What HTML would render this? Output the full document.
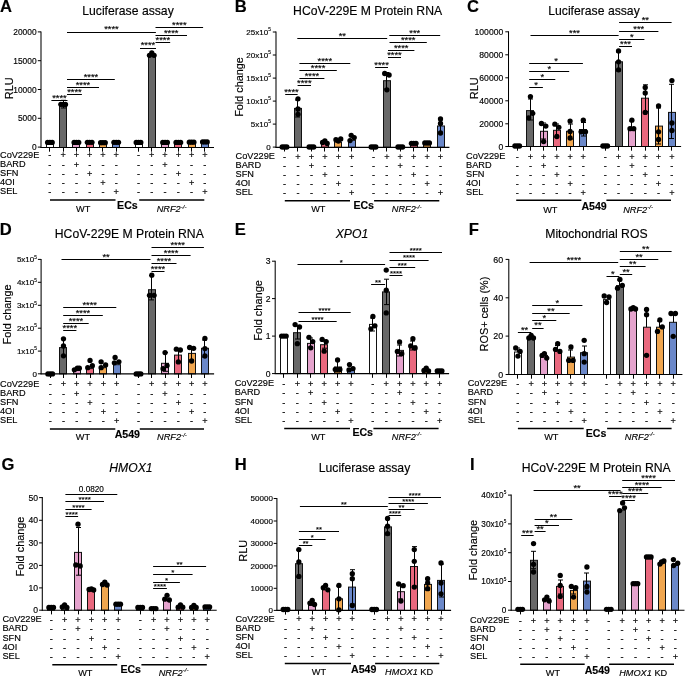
<!DOCTYPE html>
<html><head><meta charset="utf-8"><title>Figure</title>
<style>html,body{margin:0;padding:0;background:#fff;}svg{display:block;will-change:transform;}text{fill:#000;stroke:#000;stroke-width:0.15px;}</style>
</head><body>
<svg width="685" height="677" viewBox="0 0 685 677" font-family='"Liberation Sans", sans-serif'>
<rect width="685" height="677" fill="#fff"/>
<line x1="41" y1="31.4" x2="41" y2="148" stroke="#000" stroke-width="1.05"/>
<line x1="37.8" y1="147.1" x2="41" y2="147.1" stroke="#000" stroke-width="1"/>
<text x="36.55" y="150.12" font-size="8.4" text-anchor="end">0</text>
<line x1="37.8" y1="118.3" x2="41" y2="118.3" stroke="#000" stroke-width="1"/>
<text x="36.55" y="121.32" font-size="8.4" text-anchor="end">5000</text>
<line x1="37.8" y1="89.5" x2="41" y2="89.5" stroke="#000" stroke-width="1"/>
<text x="36.55" y="92.52" font-size="8.4" text-anchor="end">10000</text>
<line x1="37.8" y1="60.7" x2="41" y2="60.7" stroke="#000" stroke-width="1"/>
<text x="36.55" y="63.72" font-size="8.4" text-anchor="end">15000</text>
<line x1="37.8" y1="31.9" x2="41" y2="31.9" stroke="#000" stroke-width="1"/>
<text x="36.55" y="34.92" font-size="8.4" text-anchor="end">20000</text>
<rect x="46.5" y="143.6" width="7" height="3.9" fill="#ffffff" stroke="#111" stroke-width="1"/>
<circle cx="49.9" cy="142.4" r="2.65"/>
<circle cx="47.6" cy="142.4" r="2.65"/>
<circle cx="52.2" cy="142.4" r="2.65"/>
<rect x="59.5" y="105.5" width="7" height="42" fill="#686868" stroke="#111" stroke-width="1"/>
<line x1="63.5" y1="100.3" x2="63.5" y2="108" stroke="#000" stroke-width="1"/>
<line x1="61" y1="100.3" x2="66" y2="100.3" stroke="#000" stroke-width="1"/>
<line x1="61" y1="108" x2="66" y2="108" stroke="#000" stroke-width="1"/>
<circle cx="63.16" cy="104.3" r="2.65"/>
<circle cx="60.86" cy="104.3" r="2.65"/>
<circle cx="65.46" cy="104.5" r="2.65"/>
<rect x="72.5" y="143.6" width="7" height="3.9" fill="#e5a3cd" stroke="#111" stroke-width="1"/>
<circle cx="76.42" cy="142.4" r="2.65"/>
<circle cx="74.12" cy="142.4" r="2.65"/>
<circle cx="78.72" cy="142.4" r="2.65"/>
<rect x="86.5" y="143.5" width="7" height="4" fill="#e9687e" stroke="#111" stroke-width="1"/>
<circle cx="89.68" cy="142.3" r="2.65"/>
<circle cx="87.38" cy="142.3" r="2.65"/>
<circle cx="91.98" cy="142.3" r="2.65"/>
<rect x="99.5" y="143.9" width="7" height="3.6" fill="#f0a64f" stroke="#111" stroke-width="1"/>
<circle cx="102.94" cy="142.7" r="2.65"/>
<circle cx="100.64" cy="142.7" r="2.65"/>
<circle cx="105.24" cy="142.7" r="2.65"/>
<rect x="112.5" y="143.5" width="7" height="4" fill="#6b88c9" stroke="#111" stroke-width="1"/>
<circle cx="116.2" cy="142.3" r="2.65"/>
<circle cx="113.9" cy="142.3" r="2.65"/>
<circle cx="118.5" cy="142.3" r="2.65"/>
<rect x="135.5" y="143.6" width="7" height="3.9" fill="#ffffff" stroke="#111" stroke-width="1"/>
<circle cx="138.5" cy="142.4" r="2.65"/>
<circle cx="136.2" cy="142.4" r="2.65"/>
<circle cx="140.8" cy="142.4" r="2.65"/>
<rect x="148.5" y="55" width="7" height="92.5" fill="#686868" stroke="#111" stroke-width="1"/>
<circle cx="151.78" cy="53" r="2.65"/>
<circle cx="149.48" cy="55.3" r="2.65"/>
<circle cx="154.08" cy="55.3" r="2.65"/>
<rect x="161.5" y="143.6" width="7" height="3.9" fill="#e5a3cd" stroke="#111" stroke-width="1"/>
<circle cx="165.06" cy="142.4" r="2.65"/>
<circle cx="162.76" cy="142.4" r="2.65"/>
<circle cx="167.36" cy="142.4" r="2.65"/>
<rect x="174.5" y="143.6" width="7" height="3.9" fill="#e9687e" stroke="#111" stroke-width="1"/>
<circle cx="178.34" cy="142.4" r="2.65"/>
<circle cx="176.04" cy="142.4" r="2.65"/>
<circle cx="180.64" cy="142.4" r="2.65"/>
<rect x="188.5" y="143.4" width="7" height="4.1" fill="#f0a64f" stroke="#111" stroke-width="1"/>
<circle cx="191.62" cy="142.2" r="2.65"/>
<circle cx="189.32" cy="142.2" r="2.65"/>
<circle cx="193.92" cy="142.2" r="2.65"/>
<rect x="201.5" y="143.1" width="7" height="4.4" fill="#6b88c9" stroke="#111" stroke-width="1"/>
<circle cx="204.9" cy="141.9" r="2.65"/>
<circle cx="202.6" cy="141.9" r="2.65"/>
<circle cx="207.2" cy="141.9" r="2.65"/>
<line x1="40.5" y1="147.5" x2="214" y2="147.5" stroke="#000" stroke-width="1.15"/>
<line x1="49.5" y1="147.5" x2="49.5" y2="151.7" stroke="#000" stroke-width="1"/>
<line x1="63.5" y1="147.5" x2="63.5" y2="151.7" stroke="#000" stroke-width="1"/>
<line x1="76.5" y1="147.5" x2="76.5" y2="151.7" stroke="#000" stroke-width="1"/>
<line x1="89.5" y1="147.5" x2="89.5" y2="151.7" stroke="#000" stroke-width="1"/>
<line x1="102.5" y1="147.5" x2="102.5" y2="151.7" stroke="#000" stroke-width="1"/>
<line x1="116.5" y1="147.5" x2="116.5" y2="151.7" stroke="#000" stroke-width="1"/>
<line x1="138.5" y1="147.5" x2="138.5" y2="151.7" stroke="#000" stroke-width="1"/>
<line x1="151.5" y1="147.5" x2="151.5" y2="151.7" stroke="#000" stroke-width="1"/>
<line x1="165.5" y1="147.5" x2="165.5" y2="151.7" stroke="#000" stroke-width="1"/>
<line x1="178.5" y1="147.5" x2="178.5" y2="151.7" stroke="#000" stroke-width="1"/>
<line x1="191.5" y1="147.5" x2="191.5" y2="151.7" stroke="#000" stroke-width="1"/>
<line x1="204.5" y1="147.5" x2="204.5" y2="151.7" stroke="#000" stroke-width="1"/>
<line x1="67" y1="32.5" x2="155.9" y2="32.5" stroke="#000" stroke-width="1"/>
<text x="111.45" y="32.4" font-size="9.3" text-anchor="middle" stroke="#000" stroke-width="0.12">****</text>
<line x1="67" y1="79.5" x2="114.8" y2="79.5" stroke="#000" stroke-width="1"/>
<text x="90.9" y="79.7" font-size="9.3" text-anchor="middle" stroke="#000" stroke-width="0.12">****</text>
<line x1="67" y1="87.5" x2="99" y2="87.5" stroke="#000" stroke-width="1"/>
<text x="83" y="87.9" font-size="9.3" text-anchor="middle" stroke="#000" stroke-width="0.12">****</text>
<line x1="67" y1="94.5" x2="81.9" y2="94.5" stroke="#000" stroke-width="1"/>
<text x="74.45" y="95.2" font-size="9.3" text-anchor="middle" stroke="#000" stroke-width="0.12">****</text>
<line x1="51.4" y1="100.5" x2="67.5" y2="100.5" stroke="#000" stroke-width="1"/>
<text x="59.45" y="100.5" font-size="9.3" text-anchor="middle" stroke="#000" stroke-width="0.12">****</text>
<line x1="140" y1="48.5" x2="156" y2="48.5" stroke="#000" stroke-width="1"/>
<text x="148" y="48.4" font-size="9.3" text-anchor="middle" stroke="#000" stroke-width="0.12">****</text>
<line x1="155.5" y1="42.5" x2="170.2" y2="42.5" stroke="#000" stroke-width="1"/>
<text x="162.85" y="42.9" font-size="9.3" text-anchor="middle" stroke="#000" stroke-width="0.12">****</text>
<line x1="155.5" y1="35.5" x2="187" y2="35.5" stroke="#000" stroke-width="1"/>
<text x="171.25" y="35.6" font-size="9.3" text-anchor="middle" stroke="#000" stroke-width="0.12">****</text>
<line x1="155.5" y1="27.5" x2="203.1" y2="27.5" stroke="#000" stroke-width="1"/>
<text x="179.3" y="27.6" font-size="9.3" text-anchor="middle" stroke="#000" stroke-width="0.12">****</text>
<text x="128" y="15" font-size="12.2" text-anchor="middle">Luciferase assay</text>
<text x="0" y="11.8" font-size="16.6" font-weight="bold">A</text>
<text x="12.7" y="88.3" font-size="10.9" text-anchor="middle" transform="rotate(-90 12.7 88.3)">RLU</text>
<text x="0" y="158" font-size="9.2">CoV229E</text>
<text x="49.9" y="158" font-size="9.2" text-anchor="middle">-</text>
<text x="63.16" y="158" font-size="9.2" text-anchor="middle">+</text>
<text x="76.42" y="158" font-size="9.2" text-anchor="middle">+</text>
<text x="89.68" y="158" font-size="9.2" text-anchor="middle">+</text>
<text x="102.94" y="158" font-size="9.2" text-anchor="middle">+</text>
<text x="116.2" y="158" font-size="9.2" text-anchor="middle">+</text>
<text x="138.5" y="158" font-size="9.2" text-anchor="middle">-</text>
<text x="151.78" y="158" font-size="9.2" text-anchor="middle">+</text>
<text x="165.06" y="158" font-size="9.2" text-anchor="middle">+</text>
<text x="178.34" y="158" font-size="9.2" text-anchor="middle">+</text>
<text x="191.62" y="158" font-size="9.2" text-anchor="middle">+</text>
<text x="204.9" y="158" font-size="9.2" text-anchor="middle">+</text>
<text x="0" y="167" font-size="9.2">BARD</text>
<text x="49.9" y="168" font-size="9.2" text-anchor="middle">-</text>
<text x="63.16" y="168" font-size="9.2" text-anchor="middle">-</text>
<text x="76.42" y="168" font-size="9.2" text-anchor="middle">+</text>
<text x="89.68" y="168" font-size="9.2" text-anchor="middle">-</text>
<text x="102.94" y="168" font-size="9.2" text-anchor="middle">-</text>
<text x="116.2" y="168" font-size="9.2" text-anchor="middle">-</text>
<text x="138.5" y="168" font-size="9.2" text-anchor="middle">-</text>
<text x="151.78" y="168" font-size="9.2" text-anchor="middle">-</text>
<text x="165.06" y="168" font-size="9.2" text-anchor="middle">+</text>
<text x="178.34" y="168" font-size="9.2" text-anchor="middle">-</text>
<text x="191.62" y="168" font-size="9.2" text-anchor="middle">-</text>
<text x="204.9" y="168" font-size="9.2" text-anchor="middle">-</text>
<text x="0" y="176" font-size="9.2">SFN</text>
<text x="49.9" y="177" font-size="9.2" text-anchor="middle">-</text>
<text x="63.16" y="177" font-size="9.2" text-anchor="middle">-</text>
<text x="76.42" y="177" font-size="9.2" text-anchor="middle">-</text>
<text x="89.68" y="177" font-size="9.2" text-anchor="middle">+</text>
<text x="102.94" y="177" font-size="9.2" text-anchor="middle">-</text>
<text x="116.2" y="177" font-size="9.2" text-anchor="middle">-</text>
<text x="138.5" y="177" font-size="9.2" text-anchor="middle">-</text>
<text x="151.78" y="177" font-size="9.2" text-anchor="middle">-</text>
<text x="165.06" y="177" font-size="9.2" text-anchor="middle">-</text>
<text x="178.34" y="177" font-size="9.2" text-anchor="middle">+</text>
<text x="191.62" y="177" font-size="9.2" text-anchor="middle">-</text>
<text x="204.9" y="177" font-size="9.2" text-anchor="middle">-</text>
<text x="0" y="185" font-size="9.2">4OI</text>
<text x="49.9" y="186" font-size="9.2" text-anchor="middle">-</text>
<text x="63.16" y="186" font-size="9.2" text-anchor="middle">-</text>
<text x="76.42" y="186" font-size="9.2" text-anchor="middle">-</text>
<text x="89.68" y="186" font-size="9.2" text-anchor="middle">-</text>
<text x="102.94" y="186" font-size="9.2" text-anchor="middle">+</text>
<text x="116.2" y="186" font-size="9.2" text-anchor="middle">-</text>
<text x="138.5" y="186" font-size="9.2" text-anchor="middle">-</text>
<text x="151.78" y="186" font-size="9.2" text-anchor="middle">-</text>
<text x="165.06" y="186" font-size="9.2" text-anchor="middle">-</text>
<text x="178.34" y="186" font-size="9.2" text-anchor="middle">-</text>
<text x="191.62" y="186" font-size="9.2" text-anchor="middle">+</text>
<text x="204.9" y="186" font-size="9.2" text-anchor="middle">-</text>
<text x="0" y="194" font-size="9.2">SEL</text>
<text x="49.9" y="195" font-size="9.2" text-anchor="middle">-</text>
<text x="63.16" y="195" font-size="9.2" text-anchor="middle">-</text>
<text x="76.42" y="195" font-size="9.2" text-anchor="middle">-</text>
<text x="89.68" y="195" font-size="9.2" text-anchor="middle">-</text>
<text x="102.94" y="195" font-size="9.2" text-anchor="middle">-</text>
<text x="116.2" y="195" font-size="9.2" text-anchor="middle">+</text>
<text x="138.5" y="195" font-size="9.2" text-anchor="middle">-</text>
<text x="151.78" y="195" font-size="9.2" text-anchor="middle">-</text>
<text x="165.06" y="195" font-size="9.2" text-anchor="middle">-</text>
<text x="178.34" y="195" font-size="9.2" text-anchor="middle">-</text>
<text x="191.62" y="195" font-size="9.2" text-anchor="middle">-</text>
<text x="204.9" y="195" font-size="9.2" text-anchor="middle">+</text>
<line x1="50" y1="200.1" x2="115.5" y2="200.1" stroke="#000" stroke-width="1.5"/>
<line x1="139.2" y1="200.1" x2="204.3" y2="200.1" stroke="#000" stroke-width="1.5"/>
<text x="83.2" y="211.8" font-size="9.2" text-anchor="middle">WT</text>
<text x="117.1" y="208.5" font-size="10.6" font-weight="bold">ECs</text>
<text x="156.7" y="212" font-size="9.2"><tspan font-style="italic">NRF2</tspan><tspan font-size="6.2" dy="-3.4" font-style="italic">-/-</tspan></text>
<line x1="276" y1="31.5" x2="276" y2="147.8" stroke="#000" stroke-width="1.05"/>
<line x1="272.8" y1="147.1" x2="276" y2="147.1" stroke="#000" stroke-width="1"/>
<text x="270.75" y="149.98" font-size="8" text-anchor="end">0</text>
<line x1="272.8" y1="124.1" x2="276" y2="124.1" stroke="#000" stroke-width="1"/>
<text x="270.75" y="126.98" font-size="8" text-anchor="end">5x10<tspan font-size="4.7" dy="-3.6">5</tspan></text>
<line x1="272.8" y1="101.1" x2="276" y2="101.1" stroke="#000" stroke-width="1"/>
<text x="270.75" y="103.98" font-size="8" text-anchor="end">10x10<tspan font-size="4.7" dy="-3.6">5</tspan></text>
<line x1="272.8" y1="78.1" x2="276" y2="78.1" stroke="#000" stroke-width="1"/>
<text x="270.75" y="80.98" font-size="8" text-anchor="end">15x10<tspan font-size="4.7" dy="-3.6">5</tspan></text>
<line x1="272.8" y1="55" x2="276" y2="55" stroke="#000" stroke-width="1"/>
<text x="270.75" y="57.88" font-size="8" text-anchor="end">20x10<tspan font-size="4.7" dy="-3.6">5</tspan></text>
<line x1="272.8" y1="32" x2="276" y2="32" stroke="#000" stroke-width="1"/>
<text x="270.75" y="34.88" font-size="8" text-anchor="end">25x10<tspan font-size="4.7" dy="-3.6">5</tspan></text>
<circle cx="284.5" cy="147" r="2.65"/>
<circle cx="282.2" cy="147" r="2.65"/>
<circle cx="286.8" cy="147" r="2.65"/>
<rect x="294.5" y="108.4" width="7" height="38.9" fill="#686868" stroke="#111" stroke-width="1"/>
<line x1="297.5" y1="100" x2="297.5" y2="117" stroke="#000" stroke-width="1"/>
<line x1="295" y1="100" x2="300" y2="100" stroke="#000" stroke-width="1"/>
<line x1="295" y1="117" x2="300" y2="117" stroke="#000" stroke-width="1"/>
<circle cx="297.96" cy="98.8" r="2.65"/>
<circle cx="297.96" cy="109" r="2.65"/>
<circle cx="297.96" cy="114.3" r="2.65"/>
<circle cx="311.42" cy="147" r="2.65"/>
<circle cx="309.12" cy="147" r="2.65"/>
<circle cx="313.72" cy="147" r="2.65"/>
<rect x="321.5" y="143.5" width="7" height="3.8" fill="#e9687e" stroke="#111" stroke-width="1"/>
<circle cx="324.88" cy="141" r="2.65"/>
<circle cx="322.58" cy="142.5" r="2.65"/>
<circle cx="327.18" cy="143.5" r="2.65"/>
<rect x="334.5" y="142" width="7" height="5.3" fill="#f0a64f" stroke="#111" stroke-width="1"/>
<circle cx="338.34" cy="141" r="2.65"/>
<circle cx="335.94" cy="139.7" r="2.65"/>
<circle cx="340.74" cy="138.9" r="2.65"/>
<rect x="348.5" y="140.3" width="7" height="7" fill="#6b88c9" stroke="#111" stroke-width="1"/>
<circle cx="351.2" cy="135.3" r="2.65"/>
<circle cx="354.2" cy="137.6" r="2.65"/>
<circle cx="350" cy="140.6" r="2.65"/>
<circle cx="373.5" cy="147" r="2.65"/>
<circle cx="371.2" cy="147" r="2.65"/>
<circle cx="375.8" cy="147" r="2.65"/>
<rect x="383.5" y="80.7" width="7" height="66.6" fill="#686868" stroke="#111" stroke-width="1"/>
<line x1="386.5" y1="72.5" x2="386.5" y2="89" stroke="#000" stroke-width="1"/>
<line x1="384" y1="72.5" x2="389" y2="72.5" stroke="#000" stroke-width="1"/>
<line x1="384" y1="89" x2="389" y2="89" stroke="#000" stroke-width="1"/>
<circle cx="384.7" cy="73.5" r="2.65"/>
<circle cx="389.1" cy="75" r="2.65"/>
<circle cx="386.9" cy="89.8" r="2.65"/>
<circle cx="400.3" cy="147" r="2.65"/>
<circle cx="398" cy="147" r="2.65"/>
<circle cx="402.6" cy="147" r="2.65"/>
<rect x="410.5" y="144" width="7" height="3.3" fill="#e9687e" stroke="#111" stroke-width="1"/>
<circle cx="413.7" cy="143.3" r="2.65"/>
<circle cx="411.4" cy="143.3" r="2.65"/>
<circle cx="416" cy="143.3" r="2.65"/>
<rect x="423.5" y="144" width="7" height="3.3" fill="#f0a64f" stroke="#111" stroke-width="1"/>
<circle cx="427.1" cy="143" r="2.65"/>
<circle cx="424.8" cy="143" r="2.65"/>
<circle cx="429.4" cy="143" r="2.65"/>
<rect x="437.5" y="126" width="7" height="21.3" fill="#6b88c9" stroke="#111" stroke-width="1"/>
<line x1="440.5" y1="119.5" x2="440.5" y2="132.5" stroke="#000" stroke-width="1"/>
<line x1="438" y1="119.5" x2="443" y2="119.5" stroke="#000" stroke-width="1"/>
<line x1="438" y1="132.5" x2="443" y2="132.5" stroke="#000" stroke-width="1"/>
<circle cx="440.5" cy="119" r="2.65"/>
<circle cx="440.5" cy="123.4" r="2.65"/>
<circle cx="440.5" cy="133" r="2.65"/>
<line x1="275.5" y1="147.3" x2="449.4" y2="147.3" stroke="#000" stroke-width="1.15"/>
<line x1="284.5" y1="147.3" x2="284.5" y2="151.5" stroke="#000" stroke-width="1"/>
<line x1="297.5" y1="147.3" x2="297.5" y2="151.5" stroke="#000" stroke-width="1"/>
<line x1="311.5" y1="147.3" x2="311.5" y2="151.5" stroke="#000" stroke-width="1"/>
<line x1="324.5" y1="147.3" x2="324.5" y2="151.5" stroke="#000" stroke-width="1"/>
<line x1="338.5" y1="147.3" x2="338.5" y2="151.5" stroke="#000" stroke-width="1"/>
<line x1="351.5" y1="147.3" x2="351.5" y2="151.5" stroke="#000" stroke-width="1"/>
<line x1="373.5" y1="147.3" x2="373.5" y2="151.5" stroke="#000" stroke-width="1"/>
<line x1="386.5" y1="147.3" x2="386.5" y2="151.5" stroke="#000" stroke-width="1"/>
<line x1="400.5" y1="147.3" x2="400.5" y2="151.5" stroke="#000" stroke-width="1"/>
<line x1="413.5" y1="147.3" x2="413.5" y2="151.5" stroke="#000" stroke-width="1"/>
<line x1="427.5" y1="147.3" x2="427.5" y2="151.5" stroke="#000" stroke-width="1"/>
<line x1="440.5" y1="147.3" x2="440.5" y2="151.5" stroke="#000" stroke-width="1"/>
<line x1="297.3" y1="38.5" x2="387.2" y2="38.5" stroke="#000" stroke-width="1"/>
<text x="342.25" y="39" font-size="9.3" text-anchor="middle" stroke="#000" stroke-width="0.12">**</text>
<line x1="299.4" y1="63.5" x2="350.3" y2="63.5" stroke="#000" stroke-width="1"/>
<text x="324.85" y="63.6" font-size="9.3" text-anchor="middle" stroke="#000" stroke-width="0.12">****</text>
<line x1="299.4" y1="70.5" x2="336.8" y2="70.5" stroke="#000" stroke-width="1"/>
<text x="318.1" y="71" font-size="9.3" text-anchor="middle" stroke="#000" stroke-width="0.12">****</text>
<line x1="299.4" y1="78.5" x2="324.4" y2="78.5" stroke="#000" stroke-width="1"/>
<text x="311.9" y="78.8" font-size="9.3" text-anchor="middle" stroke="#000" stroke-width="0.12">****</text>
<line x1="297.6" y1="85.5" x2="311" y2="85.5" stroke="#000" stroke-width="1"/>
<text x="304.3" y="86.3" font-size="9.3" text-anchor="middle" stroke="#000" stroke-width="0.12">****</text>
<line x1="285.2" y1="94.5" x2="297.6" y2="94.5" stroke="#000" stroke-width="1"/>
<text x="291.4" y="95.4" font-size="9.3" text-anchor="middle" stroke="#000" stroke-width="0.12">****</text>
<line x1="375.1" y1="67.5" x2="388" y2="67.5" stroke="#000" stroke-width="1"/>
<text x="381.55" y="67.7" font-size="9.3" text-anchor="middle" stroke="#000" stroke-width="0.12">****</text>
<line x1="388" y1="57.5" x2="401" y2="57.5" stroke="#000" stroke-width="1"/>
<text x="394.5" y="58" font-size="9.3" text-anchor="middle" stroke="#000" stroke-width="0.12">****</text>
<line x1="388" y1="50.5" x2="414.4" y2="50.5" stroke="#000" stroke-width="1"/>
<text x="401.2" y="50.6" font-size="9.3" text-anchor="middle" stroke="#000" stroke-width="0.12">****</text>
<line x1="389.5" y1="42.5" x2="426.8" y2="42.5" stroke="#000" stroke-width="1"/>
<text x="408.15" y="43.4" font-size="9.3" text-anchor="middle" stroke="#000" stroke-width="0.12">****</text>
<line x1="389.3" y1="35.5" x2="440.2" y2="35.5" stroke="#000" stroke-width="1"/>
<text x="414.75" y="36.2" font-size="9.3" text-anchor="middle" stroke="#000" stroke-width="0.12">***</text>
<text x="367.6" y="15" font-size="12.2" text-anchor="middle">HCoV-229E M Protein RNA</text>
<text x="234.7" y="11.8" font-size="16.6" font-weight="bold">B</text>
<text x="242.8" y="87" font-size="10.85" text-anchor="middle" transform="rotate(-90 242.8 87)">Fold change</text>
<text x="235.6" y="159" font-size="9.2">CoV229E</text>
<text x="284.5" y="160" font-size="9.2" text-anchor="middle">-</text>
<text x="297.96" y="160" font-size="9.2" text-anchor="middle">+</text>
<text x="311.42" y="160" font-size="9.2" text-anchor="middle">+</text>
<text x="324.88" y="160" font-size="9.2" text-anchor="middle">+</text>
<text x="338.34" y="160" font-size="9.2" text-anchor="middle">+</text>
<text x="351.8" y="160" font-size="9.2" text-anchor="middle">+</text>
<text x="373.5" y="160" font-size="9.2" text-anchor="middle">-</text>
<text x="386.9" y="160" font-size="9.2" text-anchor="middle">+</text>
<text x="400.3" y="160" font-size="9.2" text-anchor="middle">+</text>
<text x="413.7" y="160" font-size="9.2" text-anchor="middle">+</text>
<text x="427.1" y="160" font-size="9.2" text-anchor="middle">+</text>
<text x="440.5" y="160" font-size="9.2" text-anchor="middle">+</text>
<text x="235.6" y="168" font-size="9.2">BARD</text>
<text x="284.5" y="169" font-size="9.2" text-anchor="middle">-</text>
<text x="297.96" y="169" font-size="9.2" text-anchor="middle">-</text>
<text x="311.42" y="169" font-size="9.2" text-anchor="middle">+</text>
<text x="324.88" y="169" font-size="9.2" text-anchor="middle">-</text>
<text x="338.34" y="169" font-size="9.2" text-anchor="middle">-</text>
<text x="351.8" y="169" font-size="9.2" text-anchor="middle">-</text>
<text x="373.5" y="169" font-size="9.2" text-anchor="middle">-</text>
<text x="386.9" y="169" font-size="9.2" text-anchor="middle">-</text>
<text x="400.3" y="169" font-size="9.2" text-anchor="middle">+</text>
<text x="413.7" y="169" font-size="9.2" text-anchor="middle">-</text>
<text x="427.1" y="169" font-size="9.2" text-anchor="middle">-</text>
<text x="440.5" y="169" font-size="9.2" text-anchor="middle">-</text>
<text x="235.6" y="177" font-size="9.2">SFN</text>
<text x="284.5" y="178" font-size="9.2" text-anchor="middle">-</text>
<text x="297.96" y="178" font-size="9.2" text-anchor="middle">-</text>
<text x="311.42" y="178" font-size="9.2" text-anchor="middle">-</text>
<text x="324.88" y="178" font-size="9.2" text-anchor="middle">+</text>
<text x="338.34" y="178" font-size="9.2" text-anchor="middle">-</text>
<text x="351.8" y="178" font-size="9.2" text-anchor="middle">-</text>
<text x="373.5" y="178" font-size="9.2" text-anchor="middle">-</text>
<text x="386.9" y="178" font-size="9.2" text-anchor="middle">-</text>
<text x="400.3" y="178" font-size="9.2" text-anchor="middle">-</text>
<text x="413.7" y="178" font-size="9.2" text-anchor="middle">+</text>
<text x="427.1" y="178" font-size="9.2" text-anchor="middle">-</text>
<text x="440.5" y="178" font-size="9.2" text-anchor="middle">-</text>
<text x="235.6" y="186" font-size="9.2">4OI</text>
<text x="284.5" y="187" font-size="9.2" text-anchor="middle">-</text>
<text x="297.96" y="187" font-size="9.2" text-anchor="middle">-</text>
<text x="311.42" y="187" font-size="9.2" text-anchor="middle">-</text>
<text x="324.88" y="187" font-size="9.2" text-anchor="middle">-</text>
<text x="338.34" y="187" font-size="9.2" text-anchor="middle">+</text>
<text x="351.8" y="187" font-size="9.2" text-anchor="middle">-</text>
<text x="373.5" y="187" font-size="9.2" text-anchor="middle">-</text>
<text x="386.9" y="187" font-size="9.2" text-anchor="middle">-</text>
<text x="400.3" y="187" font-size="9.2" text-anchor="middle">-</text>
<text x="413.7" y="187" font-size="9.2" text-anchor="middle">-</text>
<text x="427.1" y="187" font-size="9.2" text-anchor="middle">+</text>
<text x="440.5" y="187" font-size="9.2" text-anchor="middle">-</text>
<text x="235.6" y="195" font-size="9.2">SEL</text>
<text x="284.5" y="196" font-size="9.2" text-anchor="middle">-</text>
<text x="297.96" y="196" font-size="9.2" text-anchor="middle">-</text>
<text x="311.42" y="196" font-size="9.2" text-anchor="middle">-</text>
<text x="324.88" y="196" font-size="9.2" text-anchor="middle">-</text>
<text x="338.34" y="196" font-size="9.2" text-anchor="middle">-</text>
<text x="351.8" y="196" font-size="9.2" text-anchor="middle">+</text>
<text x="373.5" y="196" font-size="9.2" text-anchor="middle">-</text>
<text x="386.9" y="196" font-size="9.2" text-anchor="middle">-</text>
<text x="400.3" y="196" font-size="9.2" text-anchor="middle">-</text>
<text x="413.7" y="196" font-size="9.2" text-anchor="middle">-</text>
<text x="427.1" y="196" font-size="9.2" text-anchor="middle">-</text>
<text x="440.5" y="196" font-size="9.2" text-anchor="middle">+</text>
<line x1="284.8" y1="200.8" x2="350" y2="200.8" stroke="#000" stroke-width="1.5"/>
<line x1="374.1" y1="200.8" x2="439.3" y2="200.8" stroke="#000" stroke-width="1.5"/>
<text x="318.3" y="212" font-size="9.2" text-anchor="middle">WT</text>
<text x="353.4" y="208.7" font-size="10.6" font-weight="bold">ECs</text>
<text x="391.8" y="212" font-size="9.2"><tspan font-style="italic">NRF2</tspan><tspan font-size="6.2" dy="-3.4" font-style="italic">-/-</tspan></text>
<line x1="508.5" y1="31.3" x2="508.5" y2="147" stroke="#000" stroke-width="1.05"/>
<line x1="505.3" y1="146.5" x2="508.5" y2="146.5" stroke="#000" stroke-width="1"/>
<text x="503.25" y="149.6" font-size="8.6" text-anchor="end">0</text>
<line x1="505.3" y1="123.8" x2="508.5" y2="123.8" stroke="#000" stroke-width="1"/>
<text x="503.25" y="126.9" font-size="8.6" text-anchor="end">20000</text>
<line x1="505.3" y1="100.8" x2="508.5" y2="100.8" stroke="#000" stroke-width="1"/>
<text x="503.25" y="103.9" font-size="8.6" text-anchor="end">40000</text>
<line x1="505.3" y1="77.8" x2="508.5" y2="77.8" stroke="#000" stroke-width="1"/>
<text x="503.25" y="80.9" font-size="8.6" text-anchor="end">60000</text>
<line x1="505.3" y1="54.8" x2="508.5" y2="54.8" stroke="#000" stroke-width="1"/>
<text x="503.25" y="57.9" font-size="8.6" text-anchor="end">80000</text>
<line x1="505.3" y1="31.8" x2="508.5" y2="31.8" stroke="#000" stroke-width="1"/>
<text x="503.25" y="34.9" font-size="8.6" text-anchor="end">100000</text>
<circle cx="517.2" cy="146" r="2.65"/>
<circle cx="514.9" cy="146" r="2.65"/>
<circle cx="519.5" cy="146" r="2.65"/>
<rect x="526.5" y="110.6" width="7" height="35.9" fill="#686868" stroke="#111" stroke-width="1"/>
<line x1="530.5" y1="99" x2="530.5" y2="120" stroke="#000" stroke-width="1"/>
<line x1="528" y1="99" x2="533" y2="99" stroke="#000" stroke-width="1"/>
<line x1="528" y1="120" x2="533" y2="120" stroke="#000" stroke-width="1"/>
<circle cx="530.42" cy="96.6" r="2.65"/>
<circle cx="532.72" cy="113.3" r="2.65"/>
<circle cx="528.62" cy="117.9" r="2.65"/>
<rect x="540.5" y="131.3" width="7" height="15.2" fill="#e5a3cd" stroke="#111" stroke-width="1"/>
<line x1="543.5" y1="123" x2="543.5" y2="139" stroke="#000" stroke-width="1"/>
<line x1="541" y1="123" x2="546" y2="123" stroke="#000" stroke-width="1"/>
<line x1="541" y1="139" x2="546" y2="139" stroke="#000" stroke-width="1"/>
<circle cx="541.44" cy="123.5" r="2.65"/>
<circle cx="545.84" cy="126.1" r="2.65"/>
<circle cx="543.64" cy="141.6" r="2.65"/>
<rect x="553.5" y="130.3" width="7" height="16.2" fill="#e9687e" stroke="#111" stroke-width="1"/>
<line x1="556.5" y1="124" x2="556.5" y2="137" stroke="#000" stroke-width="1"/>
<line x1="554" y1="124" x2="559" y2="124" stroke="#000" stroke-width="1"/>
<line x1="554" y1="137" x2="559" y2="137" stroke="#000" stroke-width="1"/>
<circle cx="554.86" cy="124.2" r="2.65"/>
<circle cx="558.86" cy="127.3" r="2.65"/>
<circle cx="556.86" cy="136.5" r="2.65"/>
<rect x="566.5" y="131.3" width="7" height="15.2" fill="#f0a64f" stroke="#111" stroke-width="1"/>
<line x1="570.5" y1="124" x2="570.5" y2="139" stroke="#000" stroke-width="1"/>
<line x1="568" y1="124" x2="573" y2="124" stroke="#000" stroke-width="1"/>
<line x1="568" y1="139" x2="573" y2="139" stroke="#000" stroke-width="1"/>
<circle cx="570.08" cy="121.1" r="2.65"/>
<circle cx="570.08" cy="131.5" r="2.65"/>
<circle cx="570.08" cy="138" r="2.65"/>
<rect x="579.5" y="129.5" width="7" height="17" fill="#6b88c9" stroke="#111" stroke-width="1"/>
<line x1="583.5" y1="122.5" x2="583.5" y2="136" stroke="#000" stroke-width="1"/>
<line x1="581" y1="122.5" x2="586" y2="122.5" stroke="#000" stroke-width="1"/>
<line x1="581" y1="136" x2="586" y2="136" stroke="#000" stroke-width="1"/>
<circle cx="583.3" cy="120.2" r="2.65"/>
<circle cx="581.1" cy="131.8" r="2.65"/>
<circle cx="585.5" cy="131.8" r="2.65"/>
<circle cx="605.2" cy="146" r="2.65"/>
<circle cx="602.9" cy="146" r="2.65"/>
<circle cx="607.5" cy="146" r="2.65"/>
<rect x="615.5" y="61.8" width="7" height="84.7" fill="#686868" stroke="#111" stroke-width="1"/>
<line x1="618.5" y1="52" x2="618.5" y2="71" stroke="#000" stroke-width="1"/>
<line x1="616" y1="52" x2="621" y2="52" stroke="#000" stroke-width="1"/>
<line x1="616" y1="71" x2="621" y2="71" stroke="#000" stroke-width="1"/>
<circle cx="618.54" cy="50.9" r="2.65"/>
<circle cx="618.54" cy="61.8" r="2.65"/>
<circle cx="618.54" cy="69.8" r="2.65"/>
<rect x="628.5" y="130.5" width="7" height="16" fill="#e5a3cd" stroke="#111" stroke-width="1"/>
<line x1="631.5" y1="121" x2="631.5" y2="129" stroke="#000" stroke-width="1"/>
<line x1="629" y1="121" x2="634" y2="121" stroke="#000" stroke-width="1"/>
<line x1="629" y1="129" x2="634" y2="129" stroke="#000" stroke-width="1"/>
<circle cx="631.88" cy="120.2" r="2.65"/>
<circle cx="629.98" cy="128.7" r="2.65"/>
<circle cx="633.78" cy="128.7" r="2.65"/>
<rect x="641.5" y="98.2" width="7" height="48.3" fill="#e9687e" stroke="#111" stroke-width="1"/>
<line x1="645.5" y1="84.8" x2="645.5" y2="111.5" stroke="#000" stroke-width="1"/>
<line x1="643" y1="84.8" x2="648" y2="84.8" stroke="#000" stroke-width="1"/>
<line x1="643" y1="111.5" x2="648" y2="111.5" stroke="#000" stroke-width="1"/>
<circle cx="645.22" cy="87.4" r="2.65"/>
<circle cx="645.22" cy="93" r="2.65"/>
<circle cx="645.22" cy="112.4" r="2.65"/>
<rect x="655.5" y="126.1" width="7" height="20.4" fill="#f0a64f" stroke="#111" stroke-width="1"/>
<line x1="658.5" y1="108" x2="658.5" y2="144" stroke="#000" stroke-width="1"/>
<line x1="656" y1="108" x2="661" y2="108" stroke="#000" stroke-width="1"/>
<line x1="656" y1="144" x2="661" y2="144" stroke="#000" stroke-width="1"/>
<circle cx="658.56" cy="106" r="2.65"/>
<circle cx="658.56" cy="131.8" r="2.65"/>
<circle cx="658.56" cy="139.5" r="2.65"/>
<rect x="668.5" y="112.4" width="7" height="34.1" fill="#6b88c9" stroke="#111" stroke-width="1"/>
<line x1="671.5" y1="84.3" x2="671.5" y2="138.5" stroke="#000" stroke-width="1"/>
<line x1="669" y1="84.3" x2="674" y2="84.3" stroke="#000" stroke-width="1"/>
<line x1="669" y1="138.5" x2="674" y2="138.5" stroke="#000" stroke-width="1"/>
<circle cx="671.9" cy="80.6" r="2.65"/>
<circle cx="671.9" cy="123" r="2.65"/>
<circle cx="671.9" cy="130.5" r="2.65"/>
<line x1="508" y1="146.5" x2="681.1" y2="146.5" stroke="#000" stroke-width="1.15"/>
<line x1="517.5" y1="146.5" x2="517.5" y2="150.7" stroke="#000" stroke-width="1"/>
<line x1="530.5" y1="146.5" x2="530.5" y2="150.7" stroke="#000" stroke-width="1"/>
<line x1="543.5" y1="146.5" x2="543.5" y2="150.7" stroke="#000" stroke-width="1"/>
<line x1="556.5" y1="146.5" x2="556.5" y2="150.7" stroke="#000" stroke-width="1"/>
<line x1="570.5" y1="146.5" x2="570.5" y2="150.7" stroke="#000" stroke-width="1"/>
<line x1="583.5" y1="146.5" x2="583.5" y2="150.7" stroke="#000" stroke-width="1"/>
<line x1="605.5" y1="146.5" x2="605.5" y2="150.7" stroke="#000" stroke-width="1"/>
<line x1="618.5" y1="146.5" x2="618.5" y2="150.7" stroke="#000" stroke-width="1"/>
<line x1="631.5" y1="146.5" x2="631.5" y2="150.7" stroke="#000" stroke-width="1"/>
<line x1="645.5" y1="146.5" x2="645.5" y2="150.7" stroke="#000" stroke-width="1"/>
<line x1="658.5" y1="146.5" x2="658.5" y2="150.7" stroke="#000" stroke-width="1"/>
<line x1="671.5" y1="146.5" x2="671.5" y2="150.7" stroke="#000" stroke-width="1"/>
<line x1="530.5" y1="35.5" x2="618.6" y2="35.5" stroke="#000" stroke-width="1"/>
<text x="574.55" y="35.6" font-size="9.3" text-anchor="middle" stroke="#000" stroke-width="0.12">***</text>
<line x1="529.2" y1="63.5" x2="582.9" y2="63.5" stroke="#000" stroke-width="1"/>
<text x="556.05" y="63.5" font-size="9.3" text-anchor="middle" stroke="#000" stroke-width="0.12">*</text>
<line x1="529.2" y1="71.5" x2="569.2" y2="71.5" stroke="#000" stroke-width="1"/>
<text x="549.2" y="72.2" font-size="9.3" text-anchor="middle" stroke="#000" stroke-width="0.12">*</text>
<line x1="529.2" y1="79.5" x2="555.3" y2="79.5" stroke="#000" stroke-width="1"/>
<text x="542.25" y="80.3" font-size="9.3" text-anchor="middle" stroke="#000" stroke-width="0.12">*</text>
<line x1="529.2" y1="87.5" x2="542.9" y2="87.5" stroke="#000" stroke-width="1"/>
<text x="536.05" y="87.5" font-size="9.3" text-anchor="middle" stroke="#000" stroke-width="0.12">*</text>
<line x1="619.1" y1="46.5" x2="632" y2="46.5" stroke="#000" stroke-width="1"/>
<text x="625.55" y="47.2" font-size="9.3" text-anchor="middle" stroke="#000" stroke-width="0.12">***</text>
<line x1="619.1" y1="39.5" x2="644.4" y2="39.5" stroke="#000" stroke-width="1"/>
<text x="631.75" y="39.9" font-size="9.3" text-anchor="middle" stroke="#000" stroke-width="0.12">*</text>
<line x1="619.1" y1="31.5" x2="658.4" y2="31.5" stroke="#000" stroke-width="1"/>
<text x="638.75" y="31.7" font-size="9.3" text-anchor="middle" stroke="#000" stroke-width="0.12">***</text>
<line x1="619.1" y1="22.5" x2="671.6" y2="22.5" stroke="#000" stroke-width="1"/>
<text x="645.35" y="23.2" font-size="9.3" text-anchor="middle" stroke="#000" stroke-width="0.12">**</text>
<text x="594" y="15" font-size="12.2" text-anchor="middle">Luciferase assay</text>
<text x="467" y="11.8" font-size="16.6" font-weight="bold">C</text>
<text x="477.7" y="88.25" font-size="10.9" text-anchor="middle" transform="rotate(-90 477.7 88.25)">RLU</text>
<text x="466" y="159" font-size="9.2">CoV229E</text>
<text x="517.2" y="160" font-size="9.2" text-anchor="middle">-</text>
<text x="530.42" y="160" font-size="9.2" text-anchor="middle">+</text>
<text x="543.64" y="160" font-size="9.2" text-anchor="middle">+</text>
<text x="556.86" y="160" font-size="9.2" text-anchor="middle">+</text>
<text x="570.08" y="160" font-size="9.2" text-anchor="middle">+</text>
<text x="583.3" y="160" font-size="9.2" text-anchor="middle">+</text>
<text x="605.2" y="160" font-size="9.2" text-anchor="middle">-</text>
<text x="618.54" y="160" font-size="9.2" text-anchor="middle">+</text>
<text x="631.88" y="160" font-size="9.2" text-anchor="middle">+</text>
<text x="645.22" y="160" font-size="9.2" text-anchor="middle">+</text>
<text x="658.56" y="160" font-size="9.2" text-anchor="middle">+</text>
<text x="671.9" y="160" font-size="9.2" text-anchor="middle">+</text>
<text x="466" y="168" font-size="9.2">BARD</text>
<text x="517.2" y="169" font-size="9.2" text-anchor="middle">-</text>
<text x="530.42" y="169" font-size="9.2" text-anchor="middle">-</text>
<text x="543.64" y="169" font-size="9.2" text-anchor="middle">+</text>
<text x="556.86" y="169" font-size="9.2" text-anchor="middle">-</text>
<text x="570.08" y="169" font-size="9.2" text-anchor="middle">-</text>
<text x="583.3" y="169" font-size="9.2" text-anchor="middle">-</text>
<text x="605.2" y="169" font-size="9.2" text-anchor="middle">-</text>
<text x="618.54" y="169" font-size="9.2" text-anchor="middle">-</text>
<text x="631.88" y="169" font-size="9.2" text-anchor="middle">+</text>
<text x="645.22" y="169" font-size="9.2" text-anchor="middle">-</text>
<text x="658.56" y="169" font-size="9.2" text-anchor="middle">-</text>
<text x="671.9" y="169" font-size="9.2" text-anchor="middle">-</text>
<text x="466" y="177" font-size="9.2">SFN</text>
<text x="517.2" y="178" font-size="9.2" text-anchor="middle">-</text>
<text x="530.42" y="178" font-size="9.2" text-anchor="middle">-</text>
<text x="543.64" y="178" font-size="9.2" text-anchor="middle">-</text>
<text x="556.86" y="178" font-size="9.2" text-anchor="middle">+</text>
<text x="570.08" y="178" font-size="9.2" text-anchor="middle">-</text>
<text x="583.3" y="178" font-size="9.2" text-anchor="middle">-</text>
<text x="605.2" y="178" font-size="9.2" text-anchor="middle">-</text>
<text x="618.54" y="178" font-size="9.2" text-anchor="middle">-</text>
<text x="631.88" y="178" font-size="9.2" text-anchor="middle">-</text>
<text x="645.22" y="178" font-size="9.2" text-anchor="middle">+</text>
<text x="658.56" y="178" font-size="9.2" text-anchor="middle">-</text>
<text x="671.9" y="178" font-size="9.2" text-anchor="middle">-</text>
<text x="466" y="186" font-size="9.2">4OI</text>
<text x="517.2" y="187" font-size="9.2" text-anchor="middle">-</text>
<text x="530.42" y="187" font-size="9.2" text-anchor="middle">-</text>
<text x="543.64" y="187" font-size="9.2" text-anchor="middle">-</text>
<text x="556.86" y="187" font-size="9.2" text-anchor="middle">-</text>
<text x="570.08" y="187" font-size="9.2" text-anchor="middle">+</text>
<text x="583.3" y="187" font-size="9.2" text-anchor="middle">-</text>
<text x="605.2" y="187" font-size="9.2" text-anchor="middle">-</text>
<text x="618.54" y="187" font-size="9.2" text-anchor="middle">-</text>
<text x="631.88" y="187" font-size="9.2" text-anchor="middle">-</text>
<text x="645.22" y="187" font-size="9.2" text-anchor="middle">-</text>
<text x="658.56" y="187" font-size="9.2" text-anchor="middle">+</text>
<text x="671.9" y="187" font-size="9.2" text-anchor="middle">-</text>
<text x="466" y="195" font-size="9.2">SEL</text>
<text x="517.2" y="196" font-size="9.2" text-anchor="middle">-</text>
<text x="530.42" y="196" font-size="9.2" text-anchor="middle">-</text>
<text x="543.64" y="196" font-size="9.2" text-anchor="middle">-</text>
<text x="556.86" y="196" font-size="9.2" text-anchor="middle">-</text>
<text x="570.08" y="196" font-size="9.2" text-anchor="middle">-</text>
<text x="583.3" y="196" font-size="9.2" text-anchor="middle">+</text>
<text x="605.2" y="196" font-size="9.2" text-anchor="middle">-</text>
<text x="618.54" y="196" font-size="9.2" text-anchor="middle">-</text>
<text x="631.88" y="196" font-size="9.2" text-anchor="middle">-</text>
<text x="645.22" y="196" font-size="9.2" text-anchor="middle">-</text>
<text x="658.56" y="196" font-size="9.2" text-anchor="middle">-</text>
<text x="671.9" y="196" font-size="9.2" text-anchor="middle">+</text>
<line x1="516.2" y1="200.3" x2="581.4" y2="200.3" stroke="#000" stroke-width="1.5"/>
<line x1="606.4" y1="200.3" x2="671" y2="200.3" stroke="#000" stroke-width="1.5"/>
<text x="550.3" y="212.7" font-size="9.2" text-anchor="middle">WT</text>
<text x="581.4" y="210.3" font-size="10.6" font-weight="bold">A549</text>
<text x="623.2" y="212.7" font-size="9.2"><tspan font-style="italic">NRF2</tspan><tspan font-size="6.2" dy="-3.4" font-style="italic">-/-</tspan></text>
<line x1="41.1" y1="258.9" x2="41.1" y2="374.3" stroke="#000" stroke-width="1.05"/>
<line x1="37.9" y1="373.8" x2="41.1" y2="373.8" stroke="#000" stroke-width="1"/>
<text x="36.85" y="376.68" font-size="8" text-anchor="end">0</text>
<line x1="37.9" y1="351.1" x2="41.1" y2="351.1" stroke="#000" stroke-width="1"/>
<text x="36.85" y="353.98" font-size="8" text-anchor="end">1x10<tspan font-size="4.7" dy="-3.6">5</tspan></text>
<line x1="37.9" y1="328.2" x2="41.1" y2="328.2" stroke="#000" stroke-width="1"/>
<text x="36.85" y="331.08" font-size="8" text-anchor="end">2x10<tspan font-size="4.7" dy="-3.6">5</tspan></text>
<line x1="37.9" y1="305.3" x2="41.1" y2="305.3" stroke="#000" stroke-width="1"/>
<text x="36.85" y="308.18" font-size="8" text-anchor="end">3x10<tspan font-size="4.7" dy="-3.6">5</tspan></text>
<line x1="37.9" y1="282.3" x2="41.1" y2="282.3" stroke="#000" stroke-width="1"/>
<text x="36.85" y="285.18" font-size="8" text-anchor="end">4x10<tspan font-size="4.7" dy="-3.6">5</tspan></text>
<line x1="37.9" y1="259.4" x2="41.1" y2="259.4" stroke="#000" stroke-width="1"/>
<text x="36.85" y="262.28" font-size="8" text-anchor="end">5x10<tspan font-size="4.7" dy="-3.6">5</tspan></text>
<circle cx="50.2" cy="373.9" r="2.65"/>
<circle cx="47.9" cy="373.9" r="2.65"/>
<circle cx="52.5" cy="373.9" r="2.65"/>
<rect x="59.5" y="347.6" width="7" height="26.2" fill="#686868" stroke="#111" stroke-width="1"/>
<line x1="63.5" y1="339" x2="63.5" y2="356" stroke="#000" stroke-width="1"/>
<line x1="61" y1="339" x2="66" y2="339" stroke="#000" stroke-width="1"/>
<line x1="61" y1="356" x2="66" y2="356" stroke="#000" stroke-width="1"/>
<circle cx="63.48" cy="338.8" r="2.65"/>
<circle cx="63.48" cy="346" r="2.65"/>
<circle cx="63.48" cy="355.8" r="2.65"/>
<rect x="73.5" y="370.5" width="7" height="3.3" fill="#e5a3cd" stroke="#111" stroke-width="1"/>
<circle cx="74.36" cy="369.8" r="2.65"/>
<circle cx="77.36" cy="368.2" r="2.65"/>
<circle cx="79.36" cy="368.2" r="2.65"/>
<rect x="86.5" y="368.6" width="7" height="5.2" fill="#e9687e" stroke="#111" stroke-width="1"/>
<circle cx="90.04" cy="360.4" r="2.65"/>
<circle cx="92.34" cy="365.7" r="2.65"/>
<circle cx="87.74" cy="367.7" r="2.65"/>
<rect x="99.5" y="367.7" width="7" height="6.1" fill="#f0a64f" stroke="#111" stroke-width="1"/>
<circle cx="101.12" cy="361.8" r="2.65"/>
<circle cx="105.62" cy="365" r="2.65"/>
<circle cx="101.12" cy="367.7" r="2.65"/>
<rect x="113.5" y="364.7" width="7" height="9.1" fill="#6b88c9" stroke="#111" stroke-width="1"/>
<circle cx="115.1" cy="357.4" r="2.65"/>
<circle cx="118.9" cy="361.8" r="2.65"/>
<circle cx="114.4" cy="362.8" r="2.65"/>
<circle cx="138.5" cy="373.9" r="2.65"/>
<circle cx="136.2" cy="373.9" r="2.65"/>
<circle cx="140.8" cy="373.9" r="2.65"/>
<rect x="148.5" y="289.7" width="7" height="84.1" fill="#686868" stroke="#111" stroke-width="1"/>
<line x1="151.5" y1="275.5" x2="151.5" y2="299.9" stroke="#000" stroke-width="1"/>
<line x1="149" y1="275.5" x2="154" y2="275.5" stroke="#000" stroke-width="1"/>
<line x1="149" y1="299.9" x2="154" y2="299.9" stroke="#000" stroke-width="1"/>
<circle cx="151.78" cy="275.2" r="2.65"/>
<circle cx="149.48" cy="295.3" r="2.65"/>
<circle cx="154.08" cy="295.3" r="2.65"/>
<rect x="161.5" y="363.3" width="7" height="10.5" fill="#e5a3cd" stroke="#111" stroke-width="1"/>
<line x1="165.5" y1="352.6" x2="165.5" y2="371.3" stroke="#000" stroke-width="1"/>
<line x1="163" y1="352.6" x2="168" y2="352.6" stroke="#000" stroke-width="1"/>
<line x1="163" y1="371.3" x2="168" y2="371.3" stroke="#000" stroke-width="1"/>
<circle cx="165.06" cy="352.6" r="2.65"/>
<circle cx="167.06" cy="365.6" r="2.65"/>
<circle cx="163.06" cy="368.7" r="2.65"/>
<rect x="174.5" y="355.1" width="7" height="18.7" fill="#e9687e" stroke="#111" stroke-width="1"/>
<line x1="178.5" y1="349" x2="178.5" y2="362" stroke="#000" stroke-width="1"/>
<line x1="176" y1="349" x2="181" y2="349" stroke="#000" stroke-width="1"/>
<line x1="176" y1="362" x2="181" y2="362" stroke="#000" stroke-width="1"/>
<circle cx="176.34" cy="349.2" r="2.65"/>
<circle cx="180.34" cy="350" r="2.65"/>
<circle cx="178.34" cy="361.9" r="2.65"/>
<rect x="188.5" y="353.4" width="7" height="20.4" fill="#f0a64f" stroke="#111" stroke-width="1"/>
<line x1="191.5" y1="348" x2="191.5" y2="360" stroke="#000" stroke-width="1"/>
<line x1="189" y1="348" x2="194" y2="348" stroke="#000" stroke-width="1"/>
<line x1="189" y1="360" x2="194" y2="360" stroke="#000" stroke-width="1"/>
<circle cx="189.62" cy="347.5" r="2.65"/>
<circle cx="193.62" cy="348.3" r="2.65"/>
<circle cx="191.62" cy="361" r="2.65"/>
<rect x="201.5" y="348.3" width="7" height="25.5" fill="#6b88c9" stroke="#111" stroke-width="1"/>
<line x1="204.5" y1="340" x2="204.5" y2="357" stroke="#000" stroke-width="1"/>
<line x1="202" y1="340" x2="207" y2="340" stroke="#000" stroke-width="1"/>
<line x1="202" y1="357" x2="207" y2="357" stroke="#000" stroke-width="1"/>
<circle cx="204.9" cy="338.4" r="2.65"/>
<circle cx="204.9" cy="348.6" r="2.65"/>
<circle cx="204.9" cy="356" r="2.65"/>
<line x1="40.6" y1="373.8" x2="214.1" y2="373.8" stroke="#000" stroke-width="1.15"/>
<line x1="50.5" y1="373.8" x2="50.5" y2="378" stroke="#000" stroke-width="1"/>
<line x1="63.5" y1="373.8" x2="63.5" y2="378" stroke="#000" stroke-width="1"/>
<line x1="76.5" y1="373.8" x2="76.5" y2="378" stroke="#000" stroke-width="1"/>
<line x1="90.5" y1="373.8" x2="90.5" y2="378" stroke="#000" stroke-width="1"/>
<line x1="103.5" y1="373.8" x2="103.5" y2="378" stroke="#000" stroke-width="1"/>
<line x1="116.5" y1="373.8" x2="116.5" y2="378" stroke="#000" stroke-width="1"/>
<line x1="138.5" y1="373.8" x2="138.5" y2="378" stroke="#000" stroke-width="1"/>
<line x1="151.5" y1="373.8" x2="151.5" y2="378" stroke="#000" stroke-width="1"/>
<line x1="165.5" y1="373.8" x2="165.5" y2="378" stroke="#000" stroke-width="1"/>
<line x1="178.5" y1="373.8" x2="178.5" y2="378" stroke="#000" stroke-width="1"/>
<line x1="191.5" y1="373.8" x2="191.5" y2="378" stroke="#000" stroke-width="1"/>
<line x1="204.5" y1="373.8" x2="204.5" y2="378" stroke="#000" stroke-width="1"/>
<line x1="61.5" y1="259.5" x2="150.5" y2="259.5" stroke="#000" stroke-width="1"/>
<text x="106" y="259.8" font-size="9.3" text-anchor="middle" stroke="#000" stroke-width="0.12">**</text>
<line x1="63.2" y1="307.5" x2="116.3" y2="307.5" stroke="#000" stroke-width="1"/>
<text x="89.75" y="307.5" font-size="9.3" text-anchor="middle" stroke="#000" stroke-width="0.12">****</text>
<line x1="63.2" y1="315.5" x2="102.8" y2="315.5" stroke="#000" stroke-width="1"/>
<text x="83" y="315.9" font-size="9.3" text-anchor="middle" stroke="#000" stroke-width="0.12">****</text>
<line x1="63.2" y1="323.5" x2="88.7" y2="323.5" stroke="#000" stroke-width="1"/>
<text x="75.95" y="323.7" font-size="9.3" text-anchor="middle" stroke="#000" stroke-width="0.12">****</text>
<line x1="63.2" y1="330.5" x2="76.4" y2="330.5" stroke="#000" stroke-width="1"/>
<text x="69.8" y="331.2" font-size="9.3" text-anchor="middle" stroke="#000" stroke-width="0.12">****</text>
<line x1="151.5" y1="271.5" x2="164.5" y2="271.5" stroke="#000" stroke-width="1"/>
<text x="158" y="272.2" font-size="9.3" text-anchor="middle" stroke="#000" stroke-width="0.12">****</text>
<line x1="151.5" y1="263.5" x2="176.5" y2="263.5" stroke="#000" stroke-width="1"/>
<text x="164" y="263.8" font-size="9.3" text-anchor="middle" stroke="#000" stroke-width="0.12">****</text>
<line x1="151.5" y1="255.5" x2="190.6" y2="255.5" stroke="#000" stroke-width="1"/>
<text x="171.05" y="255.5" font-size="9.3" text-anchor="middle" stroke="#000" stroke-width="0.12">****</text>
<line x1="151.5" y1="247.5" x2="203.9" y2="247.5" stroke="#000" stroke-width="1"/>
<text x="177.7" y="247.8" font-size="9.3" text-anchor="middle" stroke="#000" stroke-width="0.12">****</text>
<text x="129.3" y="237.8" font-size="12.2" text-anchor="middle">HCoV-229E M Protein RNA</text>
<text x="-0.2" y="235" font-size="16.6" font-weight="bold">D</text>
<text x="11.1" y="314.45" font-size="10.9" text-anchor="middle" transform="rotate(-90 11.1 314.45)">Fold change</text>
<text x="0" y="387" font-size="9.2">CoV229E</text>
<text x="50.2" y="387" font-size="9.2" text-anchor="middle">-</text>
<text x="63.48" y="387" font-size="9.2" text-anchor="middle">+</text>
<text x="76.76" y="387" font-size="9.2" text-anchor="middle">+</text>
<text x="90.04" y="387" font-size="9.2" text-anchor="middle">+</text>
<text x="103.32" y="387" font-size="9.2" text-anchor="middle">+</text>
<text x="116.6" y="387" font-size="9.2" text-anchor="middle">+</text>
<text x="138.5" y="387" font-size="9.2" text-anchor="middle">-</text>
<text x="151.78" y="387" font-size="9.2" text-anchor="middle">+</text>
<text x="165.06" y="387" font-size="9.2" text-anchor="middle">+</text>
<text x="178.34" y="387" font-size="9.2" text-anchor="middle">+</text>
<text x="191.62" y="387" font-size="9.2" text-anchor="middle">+</text>
<text x="204.9" y="387" font-size="9.2" text-anchor="middle">+</text>
<text x="0" y="396" font-size="9.2">BARD</text>
<text x="50.2" y="397" font-size="9.2" text-anchor="middle">-</text>
<text x="63.48" y="397" font-size="9.2" text-anchor="middle">-</text>
<text x="76.76" y="397" font-size="9.2" text-anchor="middle">+</text>
<text x="90.04" y="397" font-size="9.2" text-anchor="middle">-</text>
<text x="103.32" y="397" font-size="9.2" text-anchor="middle">-</text>
<text x="116.6" y="397" font-size="9.2" text-anchor="middle">-</text>
<text x="138.5" y="397" font-size="9.2" text-anchor="middle">-</text>
<text x="151.78" y="397" font-size="9.2" text-anchor="middle">-</text>
<text x="165.06" y="397" font-size="9.2" text-anchor="middle">+</text>
<text x="178.34" y="397" font-size="9.2" text-anchor="middle">-</text>
<text x="191.62" y="397" font-size="9.2" text-anchor="middle">-</text>
<text x="204.9" y="397" font-size="9.2" text-anchor="middle">-</text>
<text x="0" y="405" font-size="9.2">SFN</text>
<text x="50.2" y="406" font-size="9.2" text-anchor="middle">-</text>
<text x="63.48" y="406" font-size="9.2" text-anchor="middle">-</text>
<text x="76.76" y="406" font-size="9.2" text-anchor="middle">-</text>
<text x="90.04" y="406" font-size="9.2" text-anchor="middle">+</text>
<text x="103.32" y="406" font-size="9.2" text-anchor="middle">-</text>
<text x="116.6" y="406" font-size="9.2" text-anchor="middle">-</text>
<text x="138.5" y="406" font-size="9.2" text-anchor="middle">-</text>
<text x="151.78" y="406" font-size="9.2" text-anchor="middle">-</text>
<text x="165.06" y="406" font-size="9.2" text-anchor="middle">-</text>
<text x="178.34" y="406" font-size="9.2" text-anchor="middle">+</text>
<text x="191.62" y="406" font-size="9.2" text-anchor="middle">-</text>
<text x="204.9" y="406" font-size="9.2" text-anchor="middle">-</text>
<text x="0" y="414" font-size="9.2">4OI</text>
<text x="50.2" y="415" font-size="9.2" text-anchor="middle">-</text>
<text x="63.48" y="415" font-size="9.2" text-anchor="middle">-</text>
<text x="76.76" y="415" font-size="9.2" text-anchor="middle">-</text>
<text x="90.04" y="415" font-size="9.2" text-anchor="middle">-</text>
<text x="103.32" y="415" font-size="9.2" text-anchor="middle">+</text>
<text x="116.6" y="415" font-size="9.2" text-anchor="middle">-</text>
<text x="138.5" y="415" font-size="9.2" text-anchor="middle">-</text>
<text x="151.78" y="415" font-size="9.2" text-anchor="middle">-</text>
<text x="165.06" y="415" font-size="9.2" text-anchor="middle">-</text>
<text x="178.34" y="415" font-size="9.2" text-anchor="middle">-</text>
<text x="191.62" y="415" font-size="9.2" text-anchor="middle">+</text>
<text x="204.9" y="415" font-size="9.2" text-anchor="middle">-</text>
<text x="0" y="423" font-size="9.2">SEL</text>
<text x="50.2" y="424" font-size="9.2" text-anchor="middle">-</text>
<text x="63.48" y="424" font-size="9.2" text-anchor="middle">-</text>
<text x="76.76" y="424" font-size="9.2" text-anchor="middle">-</text>
<text x="90.04" y="424" font-size="9.2" text-anchor="middle">-</text>
<text x="103.32" y="424" font-size="9.2" text-anchor="middle">-</text>
<text x="116.6" y="424" font-size="9.2" text-anchor="middle">+</text>
<text x="138.5" y="424" font-size="9.2" text-anchor="middle">-</text>
<text x="151.78" y="424" font-size="9.2" text-anchor="middle">-</text>
<text x="165.06" y="424" font-size="9.2" text-anchor="middle">-</text>
<text x="178.34" y="424" font-size="9.2" text-anchor="middle">-</text>
<text x="191.62" y="424" font-size="9.2" text-anchor="middle">-</text>
<text x="204.9" y="424" font-size="9.2" text-anchor="middle">+</text>
<line x1="49.9" y1="429.1" x2="115.3" y2="429.1" stroke="#000" stroke-width="1.5"/>
<line x1="139.8" y1="429.1" x2="204" y2="429.1" stroke="#000" stroke-width="1.5"/>
<text x="82.9" y="440.1" font-size="9.2" text-anchor="middle">WT</text>
<text x="114.7" y="437.6" font-size="10.6" font-weight="bold">A549</text>
<text x="157.1" y="440.1" font-size="9.2"><tspan font-style="italic">NRF2</tspan><tspan font-size="6.2" dy="-3.4" font-style="italic">-/-</tspan></text>
<line x1="275.2" y1="260.7" x2="275.2" y2="374.1" stroke="#000" stroke-width="1.05"/>
<line x1="272" y1="373.6" x2="275.2" y2="373.6" stroke="#000" stroke-width="1"/>
<text x="270.65" y="376.7" font-size="8.6" text-anchor="end">0</text>
<line x1="272" y1="336.1" x2="275.2" y2="336.1" stroke="#000" stroke-width="1"/>
<text x="270.65" y="339.2" font-size="8.6" text-anchor="end">1</text>
<line x1="272" y1="298.6" x2="275.2" y2="298.6" stroke="#000" stroke-width="1"/>
<text x="270.65" y="301.7" font-size="8.6" text-anchor="end">2</text>
<line x1="272" y1="261.2" x2="275.2" y2="261.2" stroke="#000" stroke-width="1"/>
<text x="270.65" y="264.3" font-size="8.6" text-anchor="end">3</text>
<rect x="280.5" y="336.1" width="7" height="37.5" fill="#ffffff" stroke="#111" stroke-width="1"/>
<circle cx="283.9" cy="336.1" r="2.65"/>
<circle cx="281.6" cy="336.1" r="2.65"/>
<circle cx="286.2" cy="336.1" r="2.65"/>
<rect x="293.5" y="332.7" width="7" height="40.9" fill="#686868" stroke="#111" stroke-width="1"/>
<line x1="297.5" y1="326" x2="297.5" y2="339" stroke="#000" stroke-width="1"/>
<line x1="295" y1="326" x2="300" y2="326" stroke="#000" stroke-width="1"/>
<line x1="295" y1="339" x2="300" y2="339" stroke="#000" stroke-width="1"/>
<circle cx="295.12" cy="324.6" r="2.65"/>
<circle cx="299.52" cy="327" r="2.65"/>
<circle cx="297.32" cy="343.7" r="2.65"/>
<rect x="307.5" y="343.4" width="7" height="30.2" fill="#e5a3cd" stroke="#111" stroke-width="1"/>
<line x1="310.5" y1="338" x2="310.5" y2="347" stroke="#000" stroke-width="1"/>
<line x1="308" y1="338" x2="313" y2="338" stroke="#000" stroke-width="1"/>
<line x1="308" y1="347" x2="313" y2="347" stroke="#000" stroke-width="1"/>
<circle cx="308.94" cy="337.3" r="2.65"/>
<circle cx="312.74" cy="341.6" r="2.65"/>
<circle cx="310.74" cy="347.8" r="2.65"/>
<rect x="320.5" y="344.7" width="7" height="28.9" fill="#e9687e" stroke="#111" stroke-width="1"/>
<line x1="324.5" y1="340" x2="324.5" y2="348.2" stroke="#000" stroke-width="1"/>
<line x1="322" y1="340" x2="327" y2="340" stroke="#000" stroke-width="1"/>
<line x1="322" y1="348.2" x2="327" y2="348.2" stroke="#000" stroke-width="1"/>
<circle cx="322.16" cy="339.4" r="2.65"/>
<circle cx="326.16" cy="341.6" r="2.65"/>
<circle cx="324.16" cy="351.2" r="2.65"/>
<rect x="334.5" y="367" width="7" height="6.6" fill="#f0a64f" stroke="#111" stroke-width="1"/>
<line x1="337.5" y1="360" x2="337.5" y2="372" stroke="#000" stroke-width="1"/>
<line x1="335" y1="360" x2="340" y2="360" stroke="#000" stroke-width="1"/>
<line x1="335" y1="372" x2="340" y2="372" stroke="#000" stroke-width="1"/>
<circle cx="337.58" cy="360" r="2.65"/>
<circle cx="335.28" cy="369.5" r="2.65"/>
<circle cx="339.88" cy="369.5" r="2.65"/>
<rect x="347.5" y="370" width="7" height="3.6" fill="#6b88c9" stroke="#111" stroke-width="1"/>
<circle cx="349.5" cy="364.6" r="2.65"/>
<circle cx="353" cy="368.6" r="2.65"/>
<circle cx="349" cy="369.9" r="2.65"/>
<rect x="369.5" y="324.4" width="7" height="49.2" fill="#ffffff" stroke="#111" stroke-width="1"/>
<line x1="372.5" y1="318" x2="372.5" y2="331" stroke="#000" stroke-width="1"/>
<line x1="370" y1="318" x2="375" y2="318" stroke="#000" stroke-width="1"/>
<line x1="370" y1="331" x2="375" y2="331" stroke="#000" stroke-width="1"/>
<circle cx="372.9" cy="316.5" r="2.65"/>
<circle cx="374.9" cy="325.8" r="2.65"/>
<circle cx="370.9" cy="328.8" r="2.65"/>
<rect x="382.5" y="291.9" width="7" height="81.7" fill="#686868" stroke="#111" stroke-width="1"/>
<line x1="386.5" y1="279.2" x2="386.5" y2="304.6" stroke="#000" stroke-width="1"/>
<line x1="384" y1="279.2" x2="389" y2="279.2" stroke="#000" stroke-width="1"/>
<line x1="384" y1="304.6" x2="389" y2="304.6" stroke="#000" stroke-width="1"/>
<circle cx="386.24" cy="270.1" r="2.65"/>
<circle cx="386.24" cy="290.2" r="2.65"/>
<circle cx="386.24" cy="312.9" r="2.65"/>
<rect x="396.5" y="350.4" width="7" height="23.2" fill="#e5a3cd" stroke="#111" stroke-width="1"/>
<line x1="399.5" y1="345" x2="399.5" y2="356" stroke="#000" stroke-width="1"/>
<line x1="397" y1="345" x2="402" y2="345" stroke="#000" stroke-width="1"/>
<line x1="397" y1="356" x2="402" y2="356" stroke="#000" stroke-width="1"/>
<circle cx="399.58" cy="342" r="2.65"/>
<circle cx="397.38" cy="351.4" r="2.65"/>
<circle cx="401.78" cy="353.7" r="2.65"/>
<rect x="409.5" y="346" width="7" height="27.6" fill="#e9687e" stroke="#111" stroke-width="1"/>
<line x1="412.5" y1="341" x2="412.5" y2="350" stroke="#000" stroke-width="1"/>
<line x1="410" y1="341" x2="415" y2="341" stroke="#000" stroke-width="1"/>
<line x1="410" y1="350" x2="415" y2="350" stroke="#000" stroke-width="1"/>
<circle cx="412.92" cy="338.7" r="2.65"/>
<circle cx="410.72" cy="346" r="2.65"/>
<circle cx="415.12" cy="348" r="2.65"/>
<rect x="422.5" y="370.4" width="7" height="3.2" fill="#f0a64f" stroke="#111" stroke-width="1"/>
<circle cx="426.26" cy="368.1" r="2.65"/>
<circle cx="423.96" cy="370.4" r="2.65"/>
<circle cx="428.56" cy="371" r="2.65"/>
<rect x="436.5" y="371.1" width="7" height="2.5" fill="#6b88c9" stroke="#111" stroke-width="1"/>
<circle cx="439.6" cy="371" r="2.65"/>
<circle cx="437.3" cy="371" r="2.65"/>
<circle cx="441.9" cy="371" r="2.65"/>
<line x1="274.7" y1="373.6" x2="449.1" y2="373.6" stroke="#000" stroke-width="1.15"/>
<line x1="283.5" y1="373.6" x2="283.5" y2="377.8" stroke="#000" stroke-width="1"/>
<line x1="297.5" y1="373.6" x2="297.5" y2="377.8" stroke="#000" stroke-width="1"/>
<line x1="310.5" y1="373.6" x2="310.5" y2="377.8" stroke="#000" stroke-width="1"/>
<line x1="324.5" y1="373.6" x2="324.5" y2="377.8" stroke="#000" stroke-width="1"/>
<line x1="337.5" y1="373.6" x2="337.5" y2="377.8" stroke="#000" stroke-width="1"/>
<line x1="351.5" y1="373.6" x2="351.5" y2="377.8" stroke="#000" stroke-width="1"/>
<line x1="372.5" y1="373.6" x2="372.5" y2="377.8" stroke="#000" stroke-width="1"/>
<line x1="386.5" y1="373.6" x2="386.5" y2="377.8" stroke="#000" stroke-width="1"/>
<line x1="399.5" y1="373.6" x2="399.5" y2="377.8" stroke="#000" stroke-width="1"/>
<line x1="412.5" y1="373.6" x2="412.5" y2="377.8" stroke="#000" stroke-width="1"/>
<line x1="426.5" y1="373.6" x2="426.5" y2="377.8" stroke="#000" stroke-width="1"/>
<line x1="439.5" y1="373.6" x2="439.5" y2="377.8" stroke="#000" stroke-width="1"/>
<line x1="297.5" y1="264.5" x2="385.1" y2="264.5" stroke="#000" stroke-width="1"/>
<text x="341.3" y="265.4" font-size="7.8" text-anchor="middle" stroke="#000" stroke-width="0.12">*</text>
<line x1="298.5" y1="312.5" x2="350.7" y2="312.5" stroke="#000" stroke-width="1"/>
<text x="324.6" y="313.3" font-size="7.8" text-anchor="middle" stroke="#000" stroke-width="0.12">****</text>
<line x1="298.5" y1="321.5" x2="336.7" y2="321.5" stroke="#000" stroke-width="1"/>
<text x="317.6" y="321.5" font-size="7.8" text-anchor="middle" stroke="#000" stroke-width="0.12">****</text>
<line x1="371.1" y1="284.5" x2="385.1" y2="284.5" stroke="#000" stroke-width="1"/>
<text x="378.1" y="284.9" font-size="7.8" text-anchor="middle" stroke="#000" stroke-width="0.12">**</text>
<line x1="389.5" y1="275.5" x2="402.5" y2="275.5" stroke="#000" stroke-width="1"/>
<text x="396" y="275.6" font-size="7.8" text-anchor="middle" stroke="#000" stroke-width="0.12">****</text>
<line x1="389.5" y1="267.5" x2="415.2" y2="267.5" stroke="#000" stroke-width="1"/>
<text x="402.35" y="268.2" font-size="7.8" text-anchor="middle" stroke="#000" stroke-width="0.12">***</text>
<line x1="389.5" y1="260.5" x2="428.6" y2="260.5" stroke="#000" stroke-width="1"/>
<text x="409.05" y="260.4" font-size="7.8" text-anchor="middle" stroke="#000" stroke-width="0.12">****</text>
<line x1="389.5" y1="252.5" x2="442" y2="252.5" stroke="#000" stroke-width="1"/>
<text x="415.75" y="253" font-size="7.8" text-anchor="middle" stroke="#000" stroke-width="0.12">****</text>
<text x="352" y="238" font-size="12.2" text-anchor="middle" font-style="italic">XPO1</text>
<text x="234.7" y="235" font-size="16.6" font-weight="bold">E</text>
<text x="262" y="310.35" font-size="11" text-anchor="middle" transform="rotate(-90 262 310.35)">Fold change</text>
<text x="234.7" y="386" font-size="9.2">CoV229E</text>
<text x="283.9" y="387" font-size="9.2" text-anchor="middle">-</text>
<text x="297.32" y="387" font-size="9.2" text-anchor="middle">+</text>
<text x="310.74" y="387" font-size="9.2" text-anchor="middle">+</text>
<text x="324.16" y="387" font-size="9.2" text-anchor="middle">+</text>
<text x="337.58" y="387" font-size="9.2" text-anchor="middle">+</text>
<text x="351" y="387" font-size="9.2" text-anchor="middle">+</text>
<text x="372.9" y="387" font-size="9.2" text-anchor="middle">-</text>
<text x="386.24" y="387" font-size="9.2" text-anchor="middle">+</text>
<text x="399.58" y="387" font-size="9.2" text-anchor="middle">+</text>
<text x="412.92" y="387" font-size="9.2" text-anchor="middle">+</text>
<text x="426.26" y="387" font-size="9.2" text-anchor="middle">+</text>
<text x="439.6" y="387" font-size="9.2" text-anchor="middle">+</text>
<text x="234.7" y="395" font-size="9.2">BARD</text>
<text x="283.9" y="396" font-size="9.2" text-anchor="middle">-</text>
<text x="297.32" y="396" font-size="9.2" text-anchor="middle">-</text>
<text x="310.74" y="396" font-size="9.2" text-anchor="middle">+</text>
<text x="324.16" y="396" font-size="9.2" text-anchor="middle">-</text>
<text x="337.58" y="396" font-size="9.2" text-anchor="middle">-</text>
<text x="351" y="396" font-size="9.2" text-anchor="middle">-</text>
<text x="372.9" y="396" font-size="9.2" text-anchor="middle">-</text>
<text x="386.24" y="396" font-size="9.2" text-anchor="middle">-</text>
<text x="399.58" y="396" font-size="9.2" text-anchor="middle">+</text>
<text x="412.92" y="396" font-size="9.2" text-anchor="middle">-</text>
<text x="426.26" y="396" font-size="9.2" text-anchor="middle">-</text>
<text x="439.6" y="396" font-size="9.2" text-anchor="middle">-</text>
<text x="234.7" y="405" font-size="9.2">SFN</text>
<text x="283.9" y="406" font-size="9.2" text-anchor="middle">-</text>
<text x="297.32" y="406" font-size="9.2" text-anchor="middle">-</text>
<text x="310.74" y="406" font-size="9.2" text-anchor="middle">-</text>
<text x="324.16" y="406" font-size="9.2" text-anchor="middle">+</text>
<text x="337.58" y="406" font-size="9.2" text-anchor="middle">-</text>
<text x="351" y="406" font-size="9.2" text-anchor="middle">-</text>
<text x="372.9" y="406" font-size="9.2" text-anchor="middle">-</text>
<text x="386.24" y="406" font-size="9.2" text-anchor="middle">-</text>
<text x="399.58" y="406" font-size="9.2" text-anchor="middle">-</text>
<text x="412.92" y="406" font-size="9.2" text-anchor="middle">+</text>
<text x="426.26" y="406" font-size="9.2" text-anchor="middle">-</text>
<text x="439.6" y="406" font-size="9.2" text-anchor="middle">-</text>
<text x="234.7" y="414" font-size="9.2">4OI</text>
<text x="283.9" y="415" font-size="9.2" text-anchor="middle">-</text>
<text x="297.32" y="415" font-size="9.2" text-anchor="middle">-</text>
<text x="310.74" y="415" font-size="9.2" text-anchor="middle">-</text>
<text x="324.16" y="415" font-size="9.2" text-anchor="middle">-</text>
<text x="337.58" y="415" font-size="9.2" text-anchor="middle">+</text>
<text x="351" y="415" font-size="9.2" text-anchor="middle">-</text>
<text x="372.9" y="415" font-size="9.2" text-anchor="middle">-</text>
<text x="386.24" y="415" font-size="9.2" text-anchor="middle">-</text>
<text x="399.58" y="415" font-size="9.2" text-anchor="middle">-</text>
<text x="412.92" y="415" font-size="9.2" text-anchor="middle">-</text>
<text x="426.26" y="415" font-size="9.2" text-anchor="middle">+</text>
<text x="439.6" y="415" font-size="9.2" text-anchor="middle">-</text>
<text x="234.7" y="423" font-size="9.2">SEL</text>
<text x="283.9" y="424" font-size="9.2" text-anchor="middle">-</text>
<text x="297.32" y="424" font-size="9.2" text-anchor="middle">-</text>
<text x="310.74" y="424" font-size="9.2" text-anchor="middle">-</text>
<text x="324.16" y="424" font-size="9.2" text-anchor="middle">-</text>
<text x="337.58" y="424" font-size="9.2" text-anchor="middle">-</text>
<text x="351" y="424" font-size="9.2" text-anchor="middle">+</text>
<text x="372.9" y="424" font-size="9.2" text-anchor="middle">-</text>
<text x="386.24" y="424" font-size="9.2" text-anchor="middle">-</text>
<text x="399.58" y="424" font-size="9.2" text-anchor="middle">-</text>
<text x="412.92" y="424" font-size="9.2" text-anchor="middle">-</text>
<text x="426.26" y="424" font-size="9.2" text-anchor="middle">-</text>
<text x="439.6" y="424" font-size="9.2" text-anchor="middle">+</text>
<line x1="284.2" y1="428.6" x2="350" y2="428.6" stroke="#000" stroke-width="1.5"/>
<line x1="373.4" y1="428.6" x2="438.6" y2="428.6" stroke="#000" stroke-width="1.5"/>
<text x="318.3" y="439.6" font-size="9.2" text-anchor="middle">WT</text>
<text x="352.4" y="436.3" font-size="10.6" font-weight="bold">ECs</text>
<text x="391.8" y="439.6" font-size="9.2"><tspan font-style="italic">NRF2</tspan><tspan font-size="6.2" dy="-3.4" font-style="italic">-/-</tspan></text>
<line x1="508.8" y1="258.9" x2="508.8" y2="375" stroke="#000" stroke-width="1.05"/>
<line x1="505.6" y1="374.5" x2="508.8" y2="374.5" stroke="#000" stroke-width="1"/>
<text x="503.15" y="377.7" font-size="8.9" text-anchor="end">0</text>
<line x1="505.6" y1="336.1" x2="508.8" y2="336.1" stroke="#000" stroke-width="1"/>
<text x="503.15" y="339.3" font-size="8.9" text-anchor="end">20</text>
<line x1="505.6" y1="297.8" x2="508.8" y2="297.8" stroke="#000" stroke-width="1"/>
<text x="503.15" y="301" font-size="8.9" text-anchor="end">40</text>
<line x1="505.6" y1="259.4" x2="508.8" y2="259.4" stroke="#000" stroke-width="1"/>
<text x="503.15" y="262.6" font-size="8.9" text-anchor="end">60</text>
<rect x="514.5" y="352" width="7" height="22.5" fill="#ffffff" stroke="#111" stroke-width="1"/>
<line x1="517.5" y1="348" x2="517.5" y2="352" stroke="#000" stroke-width="1"/>
<line x1="515" y1="348" x2="520" y2="348" stroke="#000" stroke-width="1"/>
<circle cx="515.7" cy="348" r="2.65"/>
<circle cx="520.1" cy="351.4" r="2.65"/>
<circle cx="517.9" cy="356.1" r="2.65"/>
<rect x="527.5" y="338" width="7" height="36.5" fill="#686868" stroke="#111" stroke-width="1"/>
<circle cx="531.16" cy="335.3" r="2.65"/>
<circle cx="528.86" cy="338" r="2.65"/>
<circle cx="533.46" cy="338" r="2.65"/>
<rect x="540.5" y="355.4" width="7" height="19.1" fill="#e5a3cd" stroke="#111" stroke-width="1"/>
<circle cx="544.42" cy="353.7" r="2.65"/>
<circle cx="542.12" cy="355.4" r="2.65"/>
<circle cx="546.72" cy="358.1" r="2.65"/>
<rect x="554.5" y="350.4" width="7" height="24.1" fill="#e9687e" stroke="#111" stroke-width="1"/>
<line x1="557.5" y1="345.5" x2="557.5" y2="350.4" stroke="#000" stroke-width="1"/>
<line x1="555" y1="345.5" x2="560" y2="345.5" stroke="#000" stroke-width="1"/>
<circle cx="557.68" cy="343.7" r="2.65"/>
<circle cx="555.48" cy="349.4" r="2.65"/>
<circle cx="559.88" cy="351.4" r="2.65"/>
<rect x="567.5" y="357.1" width="7" height="17.4" fill="#f0a64f" stroke="#111" stroke-width="1"/>
<line x1="570.5" y1="350" x2="570.5" y2="357.1" stroke="#000" stroke-width="1"/>
<line x1="568" y1="350" x2="573" y2="350" stroke="#000" stroke-width="1"/>
<circle cx="570.94" cy="347" r="2.65"/>
<circle cx="568.74" cy="360.4" r="2.65"/>
<circle cx="573.14" cy="360.4" r="2.65"/>
<rect x="580.5" y="352.7" width="7" height="21.8" fill="#6b88c9" stroke="#111" stroke-width="1"/>
<line x1="584.5" y1="346" x2="584.5" y2="352.7" stroke="#000" stroke-width="1"/>
<line x1="582" y1="346" x2="587" y2="346" stroke="#000" stroke-width="1"/>
<circle cx="584.2" cy="340.3" r="2.65"/>
<circle cx="584.2" cy="353.7" r="2.65"/>
<circle cx="584.2" cy="362.1" r="2.65"/>
<rect x="603.5" y="299.6" width="7" height="74.9" fill="#ffffff" stroke="#111" stroke-width="1"/>
<circle cx="604.2" cy="296" r="2.65"/>
<circle cx="609" cy="296.8" r="2.65"/>
<circle cx="606.6" cy="302.5" r="2.65"/>
<rect x="616.5" y="285.6" width="7" height="88.9" fill="#686868" stroke="#111" stroke-width="1"/>
<line x1="619.5" y1="280" x2="619.5" y2="285.6" stroke="#000" stroke-width="1"/>
<line x1="617" y1="280" x2="622" y2="280" stroke="#000" stroke-width="1"/>
<circle cx="619.92" cy="279.4" r="2.65"/>
<circle cx="622.32" cy="285.4" r="2.65"/>
<circle cx="617.52" cy="288.2" r="2.65"/>
<rect x="629.5" y="309.8" width="7" height="64.7" fill="#e5a3cd" stroke="#111" stroke-width="1"/>
<circle cx="633.24" cy="307.7" r="2.65"/>
<circle cx="630.94" cy="309" r="2.65"/>
<circle cx="635.54" cy="309" r="2.65"/>
<rect x="643.5" y="327.2" width="7" height="47.3" fill="#e9687e" stroke="#111" stroke-width="1"/>
<line x1="646.5" y1="310" x2="646.5" y2="327.2" stroke="#000" stroke-width="1"/>
<line x1="644" y1="310" x2="649" y2="310" stroke="#000" stroke-width="1"/>
<circle cx="646.56" cy="309.5" r="2.65"/>
<circle cx="646.56" cy="314.7" r="2.65"/>
<circle cx="646.56" cy="355.3" r="2.65"/>
<rect x="656.5" y="327.2" width="7" height="47.3" fill="#f0a64f" stroke="#111" stroke-width="1"/>
<line x1="659.5" y1="321" x2="659.5" y2="327.2" stroke="#000" stroke-width="1"/>
<line x1="657" y1="321" x2="662" y2="321" stroke="#000" stroke-width="1"/>
<circle cx="659.88" cy="320" r="2.65"/>
<circle cx="662.28" cy="326.9" r="2.65"/>
<circle cx="657.48" cy="331.4" r="2.65"/>
<rect x="669.5" y="322.3" width="7" height="52.2" fill="#6b88c9" stroke="#111" stroke-width="1"/>
<line x1="673.5" y1="315" x2="673.5" y2="322.3" stroke="#000" stroke-width="1"/>
<line x1="671" y1="315" x2="676" y2="315" stroke="#000" stroke-width="1"/>
<circle cx="671" cy="313.5" r="2.65"/>
<circle cx="675.4" cy="313.5" r="2.65"/>
<circle cx="673.2" cy="336.3" r="2.65"/>
<line x1="508.3" y1="374.5" x2="682.4" y2="374.5" stroke="#000" stroke-width="1.15"/>
<line x1="517.5" y1="374.5" x2="517.5" y2="378.7" stroke="#000" stroke-width="1"/>
<line x1="531.5" y1="374.5" x2="531.5" y2="378.7" stroke="#000" stroke-width="1"/>
<line x1="544.5" y1="374.5" x2="544.5" y2="378.7" stroke="#000" stroke-width="1"/>
<line x1="557.5" y1="374.5" x2="557.5" y2="378.7" stroke="#000" stroke-width="1"/>
<line x1="570.5" y1="374.5" x2="570.5" y2="378.7" stroke="#000" stroke-width="1"/>
<line x1="584.5" y1="374.5" x2="584.5" y2="378.7" stroke="#000" stroke-width="1"/>
<line x1="606.5" y1="374.5" x2="606.5" y2="378.7" stroke="#000" stroke-width="1"/>
<line x1="619.5" y1="374.5" x2="619.5" y2="378.7" stroke="#000" stroke-width="1"/>
<line x1="633.5" y1="374.5" x2="633.5" y2="378.7" stroke="#000" stroke-width="1"/>
<line x1="646.5" y1="374.5" x2="646.5" y2="378.7" stroke="#000" stroke-width="1"/>
<line x1="659.5" y1="374.5" x2="659.5" y2="378.7" stroke="#000" stroke-width="1"/>
<line x1="673.5" y1="374.5" x2="673.5" y2="378.7" stroke="#000" stroke-width="1"/>
<line x1="529.6" y1="262.5" x2="618.2" y2="262.5" stroke="#000" stroke-width="1"/>
<text x="573.9" y="263.2" font-size="9.3" text-anchor="middle" stroke="#000" stroke-width="0.12">****</text>
<line x1="517.9" y1="332.5" x2="531.2" y2="332.5" stroke="#000" stroke-width="1"/>
<text x="524.55" y="333.1" font-size="9.3" text-anchor="middle" stroke="#000" stroke-width="0.12">**</text>
<line x1="532.2" y1="328.5" x2="543.6" y2="328.5" stroke="#000" stroke-width="1"/>
<text x="537.9" y="328.4" font-size="9.3" text-anchor="middle" stroke="#000" stroke-width="0.12">**</text>
<line x1="532.2" y1="320.5" x2="556.3" y2="320.5" stroke="#000" stroke-width="1"/>
<text x="544.25" y="321.4" font-size="9.3" text-anchor="middle" stroke="#000" stroke-width="0.12">*</text>
<line x1="532.2" y1="313.5" x2="569.7" y2="313.5" stroke="#000" stroke-width="1"/>
<text x="550.95" y="314" font-size="9.3" text-anchor="middle" stroke="#000" stroke-width="0.12">**</text>
<line x1="532.2" y1="305.5" x2="582.4" y2="305.5" stroke="#000" stroke-width="1"/>
<text x="557.3" y="306" font-size="9.3" text-anchor="middle" stroke="#000" stroke-width="0.12">*</text>
<line x1="606.5" y1="276.5" x2="619.2" y2="276.5" stroke="#000" stroke-width="1"/>
<text x="612.85" y="276.7" font-size="9.3" text-anchor="middle" stroke="#000" stroke-width="0.12">*</text>
<line x1="619.8" y1="274.5" x2="632.2" y2="274.5" stroke="#000" stroke-width="1"/>
<text x="626" y="274.9" font-size="9.3" text-anchor="middle" stroke="#000" stroke-width="0.12">**</text>
<line x1="619.8" y1="266.5" x2="645.6" y2="266.5" stroke="#000" stroke-width="1"/>
<text x="632.7" y="267.2" font-size="9.3" text-anchor="middle" stroke="#000" stroke-width="0.12">**</text>
<line x1="619.8" y1="259.5" x2="658.3" y2="259.5" stroke="#000" stroke-width="1"/>
<text x="639.05" y="259.5" font-size="9.3" text-anchor="middle" stroke="#000" stroke-width="0.12">**</text>
<line x1="619.8" y1="251.5" x2="671.6" y2="251.5" stroke="#000" stroke-width="1"/>
<text x="645.7" y="251.5" font-size="9.3" text-anchor="middle" stroke="#000" stroke-width="0.12">**</text>
<text x="596.4" y="237.7" font-size="12.2" text-anchor="middle">Mitochondrial ROS</text>
<text x="468.7" y="234.5" font-size="16.6" font-weight="bold">F</text>
<text x="487.5" y="314" font-size="10.9" text-anchor="middle" transform="rotate(-90 487.5 314)">ROS+ cells (%)</text>
<text x="467.7" y="386" font-size="9.2">CoV229E</text>
<text x="517.9" y="387" font-size="9.2" text-anchor="middle">-</text>
<text x="531.16" y="387" font-size="9.2" text-anchor="middle">+</text>
<text x="544.42" y="387" font-size="9.2" text-anchor="middle">+</text>
<text x="557.68" y="387" font-size="9.2" text-anchor="middle">+</text>
<text x="570.94" y="387" font-size="9.2" text-anchor="middle">+</text>
<text x="584.2" y="387" font-size="9.2" text-anchor="middle">+</text>
<text x="606.6" y="387" font-size="9.2" text-anchor="middle">-</text>
<text x="619.92" y="387" font-size="9.2" text-anchor="middle">+</text>
<text x="633.24" y="387" font-size="9.2" text-anchor="middle">+</text>
<text x="646.56" y="387" font-size="9.2" text-anchor="middle">+</text>
<text x="659.88" y="387" font-size="9.2" text-anchor="middle">+</text>
<text x="673.2" y="387" font-size="9.2" text-anchor="middle">+</text>
<text x="467.7" y="395" font-size="9.2">BARD</text>
<text x="517.9" y="396" font-size="9.2" text-anchor="middle">-</text>
<text x="531.16" y="396" font-size="9.2" text-anchor="middle">-</text>
<text x="544.42" y="396" font-size="9.2" text-anchor="middle">+</text>
<text x="557.68" y="396" font-size="9.2" text-anchor="middle">-</text>
<text x="570.94" y="396" font-size="9.2" text-anchor="middle">-</text>
<text x="584.2" y="396" font-size="9.2" text-anchor="middle">-</text>
<text x="606.6" y="396" font-size="9.2" text-anchor="middle">-</text>
<text x="619.92" y="396" font-size="9.2" text-anchor="middle">-</text>
<text x="633.24" y="396" font-size="9.2" text-anchor="middle">+</text>
<text x="646.56" y="396" font-size="9.2" text-anchor="middle">-</text>
<text x="659.88" y="396" font-size="9.2" text-anchor="middle">-</text>
<text x="673.2" y="396" font-size="9.2" text-anchor="middle">-</text>
<text x="467.7" y="405" font-size="9.2">SFN</text>
<text x="517.9" y="406" font-size="9.2" text-anchor="middle">-</text>
<text x="531.16" y="406" font-size="9.2" text-anchor="middle">-</text>
<text x="544.42" y="406" font-size="9.2" text-anchor="middle">-</text>
<text x="557.68" y="406" font-size="9.2" text-anchor="middle">+</text>
<text x="570.94" y="406" font-size="9.2" text-anchor="middle">-</text>
<text x="584.2" y="406" font-size="9.2" text-anchor="middle">-</text>
<text x="606.6" y="406" font-size="9.2" text-anchor="middle">-</text>
<text x="619.92" y="406" font-size="9.2" text-anchor="middle">-</text>
<text x="633.24" y="406" font-size="9.2" text-anchor="middle">-</text>
<text x="646.56" y="406" font-size="9.2" text-anchor="middle">+</text>
<text x="659.88" y="406" font-size="9.2" text-anchor="middle">-</text>
<text x="673.2" y="406" font-size="9.2" text-anchor="middle">-</text>
<text x="467.7" y="414" font-size="9.2">4OI</text>
<text x="517.9" y="415" font-size="9.2" text-anchor="middle">-</text>
<text x="531.16" y="415" font-size="9.2" text-anchor="middle">-</text>
<text x="544.42" y="415" font-size="9.2" text-anchor="middle">-</text>
<text x="557.68" y="415" font-size="9.2" text-anchor="middle">-</text>
<text x="570.94" y="415" font-size="9.2" text-anchor="middle">+</text>
<text x="584.2" y="415" font-size="9.2" text-anchor="middle">-</text>
<text x="606.6" y="415" font-size="9.2" text-anchor="middle">-</text>
<text x="619.92" y="415" font-size="9.2" text-anchor="middle">-</text>
<text x="633.24" y="415" font-size="9.2" text-anchor="middle">-</text>
<text x="646.56" y="415" font-size="9.2" text-anchor="middle">-</text>
<text x="659.88" y="415" font-size="9.2" text-anchor="middle">+</text>
<text x="673.2" y="415" font-size="9.2" text-anchor="middle">-</text>
<text x="467.7" y="423" font-size="9.2">SEL</text>
<text x="517.9" y="424" font-size="9.2" text-anchor="middle">-</text>
<text x="531.16" y="424" font-size="9.2" text-anchor="middle">-</text>
<text x="544.42" y="424" font-size="9.2" text-anchor="middle">-</text>
<text x="557.68" y="424" font-size="9.2" text-anchor="middle">-</text>
<text x="570.94" y="424" font-size="9.2" text-anchor="middle">-</text>
<text x="584.2" y="424" font-size="9.2" text-anchor="middle">+</text>
<text x="606.6" y="424" font-size="9.2" text-anchor="middle">-</text>
<text x="619.92" y="424" font-size="9.2" text-anchor="middle">-</text>
<text x="633.24" y="424" font-size="9.2" text-anchor="middle">-</text>
<text x="646.56" y="424" font-size="9.2" text-anchor="middle">-</text>
<text x="659.88" y="424" font-size="9.2" text-anchor="middle">-</text>
<text x="673.2" y="424" font-size="9.2" text-anchor="middle">+</text>
<line x1="517.9" y1="428.6" x2="583.7" y2="428.6" stroke="#000" stroke-width="1.5"/>
<line x1="607.1" y1="428.6" x2="671.6" y2="428.6" stroke="#000" stroke-width="1.5"/>
<text x="551.3" y="439.6" font-size="9.2" text-anchor="middle">WT</text>
<text x="585.7" y="437" font-size="10.6" font-weight="bold">ECs</text>
<text x="624.8" y="439.6" font-size="9.2"><tspan font-style="italic">NRF2</tspan><tspan font-size="6.2" dy="-3.4" font-style="italic">-/-</tspan></text>
<line x1="42.3" y1="497.1" x2="42.3" y2="610.7" stroke="#000" stroke-width="1.05"/>
<line x1="39.1" y1="610.2" x2="42.3" y2="610.2" stroke="#000" stroke-width="1"/>
<text x="38.05" y="613.3" font-size="8.6" text-anchor="end">0</text>
<line x1="39.1" y1="587.9" x2="42.3" y2="587.9" stroke="#000" stroke-width="1"/>
<text x="38.05" y="591" font-size="8.6" text-anchor="end">10</text>
<line x1="39.1" y1="565.4" x2="42.3" y2="565.4" stroke="#000" stroke-width="1"/>
<text x="38.05" y="568.5" font-size="8.6" text-anchor="end">20</text>
<line x1="39.1" y1="542.9" x2="42.3" y2="542.9" stroke="#000" stroke-width="1"/>
<text x="38.05" y="546" font-size="8.6" text-anchor="end">30</text>
<line x1="39.1" y1="520.3" x2="42.3" y2="520.3" stroke="#000" stroke-width="1"/>
<text x="38.05" y="523.4" font-size="8.6" text-anchor="end">40</text>
<line x1="39.1" y1="497.6" x2="42.3" y2="497.6" stroke="#000" stroke-width="1"/>
<text x="38.05" y="500.7" font-size="8.6" text-anchor="end">50</text>
<rect x="47.5" y="608" width="7" height="2.2" fill="#ffffff" stroke="#111" stroke-width="1"/>
<circle cx="51.2" cy="607.5" r="2.65"/>
<circle cx="48.9" cy="607.5" r="2.65"/>
<circle cx="53.5" cy="607.5" r="2.65"/>
<rect x="61.5" y="607" width="7" height="3.2" fill="#686868" stroke="#111" stroke-width="1"/>
<circle cx="64.6" cy="605" r="2.65"/>
<circle cx="62.3" cy="607" r="2.65"/>
<circle cx="66.9" cy="607.5" r="2.65"/>
<rect x="74.5" y="552.4" width="7" height="57.8" fill="#e5a3cd" stroke="#111" stroke-width="1"/>
<line x1="78.5" y1="527.5" x2="78.5" y2="575.2" stroke="#000" stroke-width="1"/>
<line x1="76" y1="527.5" x2="81" y2="527.5" stroke="#000" stroke-width="1"/>
<line x1="76" y1="575.2" x2="81" y2="575.2" stroke="#000" stroke-width="1"/>
<circle cx="78" cy="524.2" r="2.65"/>
<circle cx="75.8" cy="565" r="2.65"/>
<circle cx="80.2" cy="566" r="2.65"/>
<rect x="87.5" y="590.4" width="7" height="19.8" fill="#e9687e" stroke="#111" stroke-width="1"/>
<circle cx="91.4" cy="589" r="2.65"/>
<circle cx="89.1" cy="589.5" r="2.65"/>
<circle cx="93.7" cy="590" r="2.65"/>
<rect x="101.5" y="584.9" width="7" height="25.3" fill="#f0a64f" stroke="#111" stroke-width="1"/>
<circle cx="104.8" cy="582.1" r="2.65"/>
<circle cx="102.5" cy="584.5" r="2.65"/>
<circle cx="107.1" cy="585" r="2.65"/>
<rect x="114.5" y="605.6" width="7" height="4.6" fill="#6b88c9" stroke="#111" stroke-width="1"/>
<circle cx="118.2" cy="604.2" r="2.65"/>
<circle cx="115.9" cy="604.2" r="2.65"/>
<circle cx="120.5" cy="604.2" r="2.65"/>
<rect x="136.5" y="608.5" width="7" height="1.7" fill="#ffffff" stroke="#111" stroke-width="1"/>
<circle cx="140.2" cy="607.5" r="2.65"/>
<circle cx="137.9" cy="607.5" r="2.65"/>
<circle cx="142.5" cy="607.5" r="2.65"/>
<rect x="150.5" y="609.5" width="7" height="0.7" fill="#686868" stroke="#111" stroke-width="1"/>
<circle cx="153.62" cy="608.6" r="2.65"/>
<circle cx="151.32" cy="608.6" r="2.65"/>
<circle cx="155.92" cy="608.6" r="2.65"/>
<rect x="163.5" y="600" width="7" height="10.2" fill="#e5a3cd" stroke="#111" stroke-width="1"/>
<circle cx="167.04" cy="595.3" r="2.65"/>
<circle cx="164.74" cy="599.2" r="2.65"/>
<circle cx="169.34" cy="600" r="2.65"/>
<rect x="176.5" y="607.5" width="7" height="2.7" fill="#e9687e" stroke="#111" stroke-width="1"/>
<circle cx="180.46" cy="604.9" r="2.65"/>
<circle cx="178.16" cy="607.2" r="2.65"/>
<circle cx="182.76" cy="607.2" r="2.65"/>
<rect x="190.5" y="608" width="7" height="2.2" fill="#f0a64f" stroke="#111" stroke-width="1"/>
<circle cx="193.88" cy="605.5" r="2.65"/>
<circle cx="191.58" cy="607.4" r="2.65"/>
<circle cx="196.18" cy="607.4" r="2.65"/>
<rect x="203.5" y="608" width="7" height="2.2" fill="#6b88c9" stroke="#111" stroke-width="1"/>
<circle cx="207.3" cy="606.9" r="2.65"/>
<circle cx="205" cy="606.9" r="2.65"/>
<circle cx="209.6" cy="606.9" r="2.65"/>
<line x1="41.8" y1="610.2" x2="216.7" y2="610.2" stroke="#000" stroke-width="1.15"/>
<line x1="51.5" y1="610.2" x2="51.5" y2="614.4" stroke="#000" stroke-width="1"/>
<line x1="64.5" y1="610.2" x2="64.5" y2="614.4" stroke="#000" stroke-width="1"/>
<line x1="78.5" y1="610.2" x2="78.5" y2="614.4" stroke="#000" stroke-width="1"/>
<line x1="91.5" y1="610.2" x2="91.5" y2="614.4" stroke="#000" stroke-width="1"/>
<line x1="104.5" y1="610.2" x2="104.5" y2="614.4" stroke="#000" stroke-width="1"/>
<line x1="118.5" y1="610.2" x2="118.5" y2="614.4" stroke="#000" stroke-width="1"/>
<line x1="140.5" y1="610.2" x2="140.5" y2="614.4" stroke="#000" stroke-width="1"/>
<line x1="153.5" y1="610.2" x2="153.5" y2="614.4" stroke="#000" stroke-width="1"/>
<line x1="167.5" y1="610.2" x2="167.5" y2="614.4" stroke="#000" stroke-width="1"/>
<line x1="180.5" y1="610.2" x2="180.5" y2="614.4" stroke="#000" stroke-width="1"/>
<line x1="193.5" y1="610.2" x2="193.5" y2="614.4" stroke="#000" stroke-width="1"/>
<line x1="207.5" y1="610.2" x2="207.5" y2="614.4" stroke="#000" stroke-width="1"/>
<line x1="65.4" y1="494.5" x2="117.3" y2="494.5" stroke="#000" stroke-width="1"/>
<text x="91.35" y="491.9" font-size="8.2" text-anchor="middle">0.0820</text>
<line x1="65.4" y1="501.5" x2="104" y2="501.5" stroke="#000" stroke-width="1"/>
<text x="84.7" y="501.9" font-size="8" text-anchor="middle" stroke="#000" stroke-width="0.12">****</text>
<line x1="65.4" y1="509.5" x2="91.6" y2="509.5" stroke="#000" stroke-width="1"/>
<text x="78.5" y="509.9" font-size="8" text-anchor="middle" stroke="#000" stroke-width="0.12">****</text>
<line x1="65.4" y1="516.5" x2="78.1" y2="516.5" stroke="#000" stroke-width="1"/>
<text x="71.75" y="516.8" font-size="8" text-anchor="middle" stroke="#000" stroke-width="0.12">****</text>
<line x1="153.1" y1="566.5" x2="206.1" y2="566.5" stroke="#000" stroke-width="1"/>
<text x="179.6" y="567.3" font-size="8" text-anchor="middle" stroke="#000" stroke-width="0.12">**</text>
<line x1="153.1" y1="574.5" x2="192.6" y2="574.5" stroke="#000" stroke-width="1"/>
<text x="172.85" y="574.8" font-size="8" text-anchor="middle" stroke="#000" stroke-width="0.12">*</text>
<line x1="153.1" y1="582.5" x2="179.9" y2="582.5" stroke="#000" stroke-width="1"/>
<text x="166.5" y="582.5" font-size="8" text-anchor="middle" stroke="#000" stroke-width="0.12">*</text>
<line x1="153.1" y1="588.5" x2="166.9" y2="588.5" stroke="#000" stroke-width="1"/>
<text x="160" y="589.4" font-size="8" text-anchor="middle" stroke="#000" stroke-width="0.12">****</text>
<text x="130.9" y="471.7" font-size="12.2" text-anchor="middle" font-style="italic">HMOX1</text>
<text x="1.5" y="469.6" font-size="16.6" font-weight="bold">G</text>
<text x="24" y="546.55" font-size="10.9" text-anchor="middle" transform="rotate(-90 24 546.55)">Fold change</text>
<text x="2.4" y="622" font-size="9.2">CoV229E</text>
<text x="51.2" y="623" font-size="9.2" text-anchor="middle">-</text>
<text x="64.6" y="623" font-size="9.2" text-anchor="middle">+</text>
<text x="78" y="623" font-size="9.2" text-anchor="middle">+</text>
<text x="91.4" y="623" font-size="9.2" text-anchor="middle">+</text>
<text x="104.8" y="623" font-size="9.2" text-anchor="middle">+</text>
<text x="118.2" y="623" font-size="9.2" text-anchor="middle">+</text>
<text x="140.2" y="623" font-size="9.2" text-anchor="middle">-</text>
<text x="153.62" y="623" font-size="9.2" text-anchor="middle">+</text>
<text x="167.04" y="623" font-size="9.2" text-anchor="middle">+</text>
<text x="180.46" y="623" font-size="9.2" text-anchor="middle">+</text>
<text x="193.88" y="623" font-size="9.2" text-anchor="middle">+</text>
<text x="207.3" y="623" font-size="9.2" text-anchor="middle">+</text>
<text x="2.4" y="631" font-size="9.2">BARD</text>
<text x="51.2" y="632" font-size="9.2" text-anchor="middle">-</text>
<text x="64.6" y="632" font-size="9.2" text-anchor="middle">-</text>
<text x="78" y="632" font-size="9.2" text-anchor="middle">+</text>
<text x="91.4" y="632" font-size="9.2" text-anchor="middle">-</text>
<text x="104.8" y="632" font-size="9.2" text-anchor="middle">-</text>
<text x="118.2" y="632" font-size="9.2" text-anchor="middle">-</text>
<text x="140.2" y="632" font-size="9.2" text-anchor="middle">-</text>
<text x="153.62" y="632" font-size="9.2" text-anchor="middle">-</text>
<text x="167.04" y="632" font-size="9.2" text-anchor="middle">+</text>
<text x="180.46" y="632" font-size="9.2" text-anchor="middle">-</text>
<text x="193.88" y="632" font-size="9.2" text-anchor="middle">-</text>
<text x="207.3" y="632" font-size="9.2" text-anchor="middle">-</text>
<text x="2.4" y="641" font-size="9.2">SFN</text>
<text x="51.2" y="642" font-size="9.2" text-anchor="middle">-</text>
<text x="64.6" y="642" font-size="9.2" text-anchor="middle">-</text>
<text x="78" y="642" font-size="9.2" text-anchor="middle">-</text>
<text x="91.4" y="642" font-size="9.2" text-anchor="middle">+</text>
<text x="104.8" y="642" font-size="9.2" text-anchor="middle">-</text>
<text x="118.2" y="642" font-size="9.2" text-anchor="middle">-</text>
<text x="140.2" y="642" font-size="9.2" text-anchor="middle">-</text>
<text x="153.62" y="642" font-size="9.2" text-anchor="middle">-</text>
<text x="167.04" y="642" font-size="9.2" text-anchor="middle">-</text>
<text x="180.46" y="642" font-size="9.2" text-anchor="middle">+</text>
<text x="193.88" y="642" font-size="9.2" text-anchor="middle">-</text>
<text x="207.3" y="642" font-size="9.2" text-anchor="middle">-</text>
<text x="2.4" y="650" font-size="9.2">4OI</text>
<text x="51.2" y="651" font-size="9.2" text-anchor="middle">-</text>
<text x="64.6" y="651" font-size="9.2" text-anchor="middle">-</text>
<text x="78" y="651" font-size="9.2" text-anchor="middle">-</text>
<text x="91.4" y="651" font-size="9.2" text-anchor="middle">-</text>
<text x="104.8" y="651" font-size="9.2" text-anchor="middle">+</text>
<text x="118.2" y="651" font-size="9.2" text-anchor="middle">-</text>
<text x="140.2" y="651" font-size="9.2" text-anchor="middle">-</text>
<text x="153.62" y="651" font-size="9.2" text-anchor="middle">-</text>
<text x="167.04" y="651" font-size="9.2" text-anchor="middle">-</text>
<text x="180.46" y="651" font-size="9.2" text-anchor="middle">-</text>
<text x="193.88" y="651" font-size="9.2" text-anchor="middle">+</text>
<text x="207.3" y="651" font-size="9.2" text-anchor="middle">-</text>
<text x="2.4" y="659" font-size="9.2">SEL</text>
<text x="51.2" y="660" font-size="9.2" text-anchor="middle">-</text>
<text x="64.6" y="660" font-size="9.2" text-anchor="middle">-</text>
<text x="78" y="660" font-size="9.2" text-anchor="middle">-</text>
<text x="91.4" y="660" font-size="9.2" text-anchor="middle">-</text>
<text x="104.8" y="660" font-size="9.2" text-anchor="middle">-</text>
<text x="118.2" y="660" font-size="9.2" text-anchor="middle">+</text>
<text x="140.2" y="660" font-size="9.2" text-anchor="middle">-</text>
<text x="153.62" y="660" font-size="9.2" text-anchor="middle">-</text>
<text x="167.04" y="660" font-size="9.2" text-anchor="middle">-</text>
<text x="180.46" y="660" font-size="9.2" text-anchor="middle">-</text>
<text x="193.88" y="660" font-size="9.2" text-anchor="middle">-</text>
<text x="207.3" y="660" font-size="9.2" text-anchor="middle">+</text>
<line x1="52.3" y1="664.8" x2="117.2" y2="664.8" stroke="#000" stroke-width="1.5"/>
<line x1="141.4" y1="664.8" x2="206.8" y2="664.8" stroke="#000" stroke-width="1.5"/>
<text x="85.3" y="675.8" font-size="9.2" text-anchor="middle">WT</text>
<text x="120.4" y="672.8" font-size="10.6" font-weight="bold">ECs</text>
<text x="158.7" y="675.8" font-size="9.2"><tspan font-style="italic">NRF2</tspan><tspan font-size="6.2" dy="-3.4" font-style="italic">-/-</tspan></text>
<line x1="276.9" y1="498" x2="276.9" y2="610.9" stroke="#000" stroke-width="1.05"/>
<line x1="273.7" y1="610.4" x2="276.9" y2="610.4" stroke="#000" stroke-width="1"/>
<text x="272.85" y="613.28" font-size="8" text-anchor="end">0</text>
<line x1="273.7" y1="588.3" x2="276.9" y2="588.3" stroke="#000" stroke-width="1"/>
<text x="272.85" y="591.18" font-size="8" text-anchor="end">10000</text>
<line x1="273.7" y1="565.9" x2="276.9" y2="565.9" stroke="#000" stroke-width="1"/>
<text x="272.85" y="568.78" font-size="8" text-anchor="end">20000</text>
<line x1="273.7" y1="543.4" x2="276.9" y2="543.4" stroke="#000" stroke-width="1"/>
<text x="272.85" y="546.28" font-size="8" text-anchor="end">30000</text>
<line x1="273.7" y1="521" x2="276.9" y2="521" stroke="#000" stroke-width="1"/>
<text x="272.85" y="523.88" font-size="8" text-anchor="end">40000</text>
<line x1="273.7" y1="498.5" x2="276.9" y2="498.5" stroke="#000" stroke-width="1"/>
<text x="272.85" y="501.38" font-size="8" text-anchor="end">50000</text>
<circle cx="285.5" cy="609.5" r="2.65"/>
<circle cx="283.2" cy="609.5" r="2.65"/>
<circle cx="287.8" cy="609.5" r="2.65"/>
<rect x="295.5" y="563.7" width="7" height="46.7" fill="#686868" stroke="#111" stroke-width="1"/>
<line x1="298.5" y1="550" x2="298.5" y2="577" stroke="#000" stroke-width="1"/>
<line x1="296" y1="550" x2="301" y2="550" stroke="#000" stroke-width="1"/>
<line x1="296" y1="577" x2="301" y2="577" stroke="#000" stroke-width="1"/>
<circle cx="298.86" cy="549.6" r="2.65"/>
<circle cx="298.86" cy="562" r="2.65"/>
<circle cx="298.86" cy="576.4" r="2.65"/>
<rect x="308.5" y="605.5" width="7" height="4.9" fill="#e5a3cd" stroke="#111" stroke-width="1"/>
<circle cx="312.22" cy="600.5" r="2.65"/>
<circle cx="309.92" cy="603.1" r="2.65"/>
<circle cx="314.52" cy="604.5" r="2.65"/>
<rect x="322.5" y="589.8" width="7" height="20.6" fill="#e9687e" stroke="#111" stroke-width="1"/>
<circle cx="325.58" cy="585.4" r="2.65"/>
<circle cx="323.28" cy="587.7" r="2.65"/>
<circle cx="327.88" cy="589.8" r="2.65"/>
<rect x="335.5" y="598.8" width="7" height="11.6" fill="#f0a64f" stroke="#111" stroke-width="1"/>
<line x1="338.5" y1="586" x2="338.5" y2="611" stroke="#000" stroke-width="1"/>
<line x1="336" y1="586" x2="341" y2="586" stroke="#000" stroke-width="1"/>
<line x1="336" y1="611" x2="341" y2="611" stroke="#000" stroke-width="1"/>
<circle cx="338.94" cy="585.4" r="2.65"/>
<circle cx="338.94" cy="598.8" r="2.65"/>
<circle cx="338.94" cy="609.8" r="2.65"/>
<rect x="348.5" y="587.1" width="7" height="23.3" fill="#6b88c9" stroke="#111" stroke-width="1"/>
<line x1="352.5" y1="569.7" x2="352.5" y2="604" stroke="#000" stroke-width="1"/>
<line x1="350" y1="569.7" x2="355" y2="569.7" stroke="#000" stroke-width="1"/>
<line x1="350" y1="604" x2="355" y2="604" stroke="#000" stroke-width="1"/>
<circle cx="352.3" cy="573.7" r="2.65"/>
<circle cx="352.3" cy="578.7" r="2.65"/>
<circle cx="352.3" cy="605.5" r="2.65"/>
<circle cx="374.2" cy="609.5" r="2.65"/>
<circle cx="371.9" cy="609.5" r="2.65"/>
<circle cx="376.5" cy="609.5" r="2.65"/>
<rect x="384.5" y="526.9" width="7" height="83.5" fill="#686868" stroke="#111" stroke-width="1"/>
<line x1="387.5" y1="519" x2="387.5" y2="535" stroke="#000" stroke-width="1"/>
<line x1="385" y1="519" x2="390" y2="519" stroke="#000" stroke-width="1"/>
<line x1="385" y1="535" x2="390" y2="535" stroke="#000" stroke-width="1"/>
<circle cx="387.56" cy="518.5" r="2.65"/>
<circle cx="387.56" cy="526.2" r="2.65"/>
<circle cx="387.56" cy="533.6" r="2.65"/>
<rect x="397.5" y="591.7" width="7" height="18.7" fill="#e5a3cd" stroke="#111" stroke-width="1"/>
<line x1="400.5" y1="584.5" x2="400.5" y2="599" stroke="#000" stroke-width="1"/>
<line x1="398" y1="584.5" x2="403" y2="584.5" stroke="#000" stroke-width="1"/>
<line x1="398" y1="599" x2="403" y2="599" stroke="#000" stroke-width="1"/>
<circle cx="398.62" cy="584" r="2.65"/>
<circle cx="403.22" cy="585.7" r="2.65"/>
<circle cx="400.92" cy="601" r="2.65"/>
<rect x="410.5" y="566.5" width="7" height="43.9" fill="#e9687e" stroke="#111" stroke-width="1"/>
<line x1="414.5" y1="546.6" x2="414.5" y2="586" stroke="#000" stroke-width="1"/>
<line x1="412" y1="546.6" x2="417" y2="546.6" stroke="#000" stroke-width="1"/>
<line x1="412" y1="586" x2="417" y2="586" stroke="#000" stroke-width="1"/>
<circle cx="414.28" cy="549.6" r="2.65"/>
<circle cx="414.28" cy="561.3" r="2.65"/>
<circle cx="414.28" cy="587.1" r="2.65"/>
<rect x="424.5" y="584.4" width="7" height="26" fill="#f0a64f" stroke="#111" stroke-width="1"/>
<line x1="427.5" y1="579" x2="427.5" y2="590" stroke="#000" stroke-width="1"/>
<line x1="425" y1="579" x2="430" y2="579" stroke="#000" stroke-width="1"/>
<line x1="425" y1="590" x2="430" y2="590" stroke="#000" stroke-width="1"/>
<circle cx="427.64" cy="578.7" r="2.65"/>
<circle cx="427.64" cy="583" r="2.65"/>
<circle cx="427.64" cy="588.7" r="2.65"/>
<rect x="437.5" y="580.4" width="7" height="30" fill="#6b88c9" stroke="#111" stroke-width="1"/>
<line x1="441.5" y1="564" x2="441.5" y2="597" stroke="#000" stroke-width="1"/>
<line x1="439" y1="564" x2="444" y2="564" stroke="#000" stroke-width="1"/>
<line x1="439" y1="597" x2="444" y2="597" stroke="#000" stroke-width="1"/>
<circle cx="441" cy="563" r="2.65"/>
<circle cx="441" cy="583" r="2.65"/>
<circle cx="441" cy="593.8" r="2.65"/>
<line x1="276.4" y1="610.4" x2="451.1" y2="610.4" stroke="#000" stroke-width="1.15"/>
<line x1="285.5" y1="610.4" x2="285.5" y2="614.6" stroke="#000" stroke-width="1"/>
<line x1="298.5" y1="610.4" x2="298.5" y2="614.6" stroke="#000" stroke-width="1"/>
<line x1="312.5" y1="610.4" x2="312.5" y2="614.6" stroke="#000" stroke-width="1"/>
<line x1="325.5" y1="610.4" x2="325.5" y2="614.6" stroke="#000" stroke-width="1"/>
<line x1="338.5" y1="610.4" x2="338.5" y2="614.6" stroke="#000" stroke-width="1"/>
<line x1="352.5" y1="610.4" x2="352.5" y2="614.6" stroke="#000" stroke-width="1"/>
<line x1="374.5" y1="610.4" x2="374.5" y2="614.6" stroke="#000" stroke-width="1"/>
<line x1="387.5" y1="610.4" x2="387.5" y2="614.6" stroke="#000" stroke-width="1"/>
<line x1="400.5" y1="610.4" x2="400.5" y2="614.6" stroke="#000" stroke-width="1"/>
<line x1="414.5" y1="610.4" x2="414.5" y2="614.6" stroke="#000" stroke-width="1"/>
<line x1="427.5" y1="610.4" x2="427.5" y2="614.6" stroke="#000" stroke-width="1"/>
<line x1="441.5" y1="610.4" x2="441.5" y2="614.6" stroke="#000" stroke-width="1"/>
<line x1="299.9" y1="506.5" x2="387.8" y2="506.5" stroke="#000" stroke-width="1"/>
<text x="343.85" y="506.6" font-size="7.6" text-anchor="middle" stroke="#000" stroke-width="0.12">**</text>
<line x1="298.9" y1="531.5" x2="339" y2="531.5" stroke="#000" stroke-width="1"/>
<text x="318.95" y="532.3" font-size="7.6" text-anchor="middle" stroke="#000" stroke-width="0.12">**</text>
<line x1="298.9" y1="539.5" x2="325.6" y2="539.5" stroke="#000" stroke-width="1"/>
<text x="312.25" y="539.7" font-size="7.6" text-anchor="middle" stroke="#000" stroke-width="0.12">*</text>
<line x1="298.9" y1="545.5" x2="312.3" y2="545.5" stroke="#000" stroke-width="1"/>
<text x="305.6" y="545.7" font-size="7.6" text-anchor="middle" stroke="#000" stroke-width="0.12">**</text>
<line x1="388.5" y1="515.5" x2="401.2" y2="515.5" stroke="#000" stroke-width="1"/>
<text x="394.85" y="515.6" font-size="7.6" text-anchor="middle" stroke="#000" stroke-width="0.12">****</text>
<line x1="388.5" y1="509.5" x2="414.6" y2="509.5" stroke="#000" stroke-width="1"/>
<text x="401.55" y="509.9" font-size="7.6" text-anchor="middle" stroke="#000" stroke-width="0.12">**</text>
<line x1="388.5" y1="503.5" x2="427.9" y2="503.5" stroke="#000" stroke-width="1"/>
<text x="408.2" y="503.9" font-size="7.6" text-anchor="middle" stroke="#000" stroke-width="0.12">****</text>
<line x1="388.5" y1="497.5" x2="441" y2="497.5" stroke="#000" stroke-width="1"/>
<text x="414.75" y="497.9" font-size="7.6" text-anchor="middle" stroke="#000" stroke-width="0.12">****</text>
<text x="364.5" y="471.7" font-size="12.2" text-anchor="middle">Luciferase assay</text>
<text x="234.7" y="469.8" font-size="16.6" font-weight="bold">H</text>
<text x="247.1" y="550.8" font-size="10.9" text-anchor="middle" transform="rotate(-90 247.1 550.8)">RLU</text>
<text x="235.4" y="622" font-size="9.2">CoV229E</text>
<text x="285.5" y="622" font-size="9.2" text-anchor="middle">-</text>
<text x="298.86" y="622" font-size="9.2" text-anchor="middle">+</text>
<text x="312.22" y="622" font-size="9.2" text-anchor="middle">+</text>
<text x="325.58" y="622" font-size="9.2" text-anchor="middle">+</text>
<text x="338.94" y="622" font-size="9.2" text-anchor="middle">+</text>
<text x="352.3" y="622" font-size="9.2" text-anchor="middle">+</text>
<text x="374.2" y="622" font-size="9.2" text-anchor="middle">-</text>
<text x="387.56" y="622" font-size="9.2" text-anchor="middle">+</text>
<text x="400.92" y="622" font-size="9.2" text-anchor="middle">+</text>
<text x="414.28" y="622" font-size="9.2" text-anchor="middle">+</text>
<text x="427.64" y="622" font-size="9.2" text-anchor="middle">+</text>
<text x="441" y="622" font-size="9.2" text-anchor="middle">+</text>
<text x="235.4" y="631" font-size="9.2">BARD</text>
<text x="285.5" y="632" font-size="9.2" text-anchor="middle">-</text>
<text x="298.86" y="632" font-size="9.2" text-anchor="middle">-</text>
<text x="312.22" y="632" font-size="9.2" text-anchor="middle">+</text>
<text x="325.58" y="632" font-size="9.2" text-anchor="middle">-</text>
<text x="338.94" y="632" font-size="9.2" text-anchor="middle">-</text>
<text x="352.3" y="632" font-size="9.2" text-anchor="middle">-</text>
<text x="374.2" y="632" font-size="9.2" text-anchor="middle">-</text>
<text x="387.56" y="632" font-size="9.2" text-anchor="middle">-</text>
<text x="400.92" y="632" font-size="9.2" text-anchor="middle">+</text>
<text x="414.28" y="632" font-size="9.2" text-anchor="middle">-</text>
<text x="427.64" y="632" font-size="9.2" text-anchor="middle">-</text>
<text x="441" y="632" font-size="9.2" text-anchor="middle">-</text>
<text x="235.4" y="640" font-size="9.2">SFN</text>
<text x="285.5" y="641" font-size="9.2" text-anchor="middle">-</text>
<text x="298.86" y="641" font-size="9.2" text-anchor="middle">-</text>
<text x="312.22" y="641" font-size="9.2" text-anchor="middle">-</text>
<text x="325.58" y="641" font-size="9.2" text-anchor="middle">+</text>
<text x="338.94" y="641" font-size="9.2" text-anchor="middle">-</text>
<text x="352.3" y="641" font-size="9.2" text-anchor="middle">-</text>
<text x="374.2" y="641" font-size="9.2" text-anchor="middle">-</text>
<text x="387.56" y="641" font-size="9.2" text-anchor="middle">-</text>
<text x="400.92" y="641" font-size="9.2" text-anchor="middle">-</text>
<text x="414.28" y="641" font-size="9.2" text-anchor="middle">+</text>
<text x="427.64" y="641" font-size="9.2" text-anchor="middle">-</text>
<text x="441" y="641" font-size="9.2" text-anchor="middle">-</text>
<text x="235.4" y="649" font-size="9.2">4OI</text>
<text x="285.5" y="650" font-size="9.2" text-anchor="middle">-</text>
<text x="298.86" y="650" font-size="9.2" text-anchor="middle">-</text>
<text x="312.22" y="650" font-size="9.2" text-anchor="middle">-</text>
<text x="325.58" y="650" font-size="9.2" text-anchor="middle">-</text>
<text x="338.94" y="650" font-size="9.2" text-anchor="middle">+</text>
<text x="352.3" y="650" font-size="9.2" text-anchor="middle">-</text>
<text x="374.2" y="650" font-size="9.2" text-anchor="middle">-</text>
<text x="387.56" y="650" font-size="9.2" text-anchor="middle">-</text>
<text x="400.92" y="650" font-size="9.2" text-anchor="middle">-</text>
<text x="414.28" y="650" font-size="9.2" text-anchor="middle">-</text>
<text x="427.64" y="650" font-size="9.2" text-anchor="middle">+</text>
<text x="441" y="650" font-size="9.2" text-anchor="middle">-</text>
<text x="235.4" y="658" font-size="9.2">SEL</text>
<text x="285.5" y="659" font-size="9.2" text-anchor="middle">-</text>
<text x="298.86" y="659" font-size="9.2" text-anchor="middle">-</text>
<text x="312.22" y="659" font-size="9.2" text-anchor="middle">-</text>
<text x="325.58" y="659" font-size="9.2" text-anchor="middle">-</text>
<text x="338.94" y="659" font-size="9.2" text-anchor="middle">-</text>
<text x="352.3" y="659" font-size="9.2" text-anchor="middle">+</text>
<text x="374.2" y="659" font-size="9.2" text-anchor="middle">-</text>
<text x="387.56" y="659" font-size="9.2" text-anchor="middle">-</text>
<text x="400.92" y="659" font-size="9.2" text-anchor="middle">-</text>
<text x="414.28" y="659" font-size="9.2" text-anchor="middle">-</text>
<text x="427.64" y="659" font-size="9.2" text-anchor="middle">-</text>
<text x="441" y="659" font-size="9.2" text-anchor="middle">+</text>
<line x1="284.8" y1="663.6" x2="351" y2="663.6" stroke="#000" stroke-width="1.5"/>
<line x1="375.1" y1="663.6" x2="439.3" y2="663.6" stroke="#000" stroke-width="1.5"/>
<text x="318.9" y="675.3" font-size="9.2" text-anchor="middle">WT</text>
<text x="351" y="672.9" font-size="10.6" font-weight="bold">A549</text>
<text x="385.1" y="675.3" font-size="9.2"><tspan font-style="italic">HMOX1</tspan> KD</text>
<line x1="511.2" y1="494.6" x2="511.2" y2="610.7" stroke="#000" stroke-width="1.05"/>
<line x1="508" y1="610.2" x2="511.2" y2="610.2" stroke="#000" stroke-width="1"/>
<text x="506.25" y="613.15" font-size="8.2" text-anchor="end">0</text>
<line x1="508" y1="581.5" x2="511.2" y2="581.5" stroke="#000" stroke-width="1"/>
<text x="506.25" y="584.45" font-size="8.2" text-anchor="end">10x10<tspan font-size="4.7" dy="-3.6">5</tspan></text>
<line x1="508" y1="552.7" x2="511.2" y2="552.7" stroke="#000" stroke-width="1"/>
<text x="506.25" y="555.65" font-size="8.2" text-anchor="end">20x10<tspan font-size="4.7" dy="-3.6">5</tspan></text>
<line x1="508" y1="523.9" x2="511.2" y2="523.9" stroke="#000" stroke-width="1"/>
<text x="506.25" y="526.85" font-size="8.2" text-anchor="end">30x10<tspan font-size="4.7" dy="-3.6">5</tspan></text>
<line x1="508" y1="495.1" x2="511.2" y2="495.1" stroke="#000" stroke-width="1"/>
<text x="506.25" y="498.05" font-size="8.2" text-anchor="end">40x10<tspan font-size="4.7" dy="-3.6">5</tspan></text>
<circle cx="520.2" cy="609.3" r="2.65"/>
<circle cx="517.9" cy="609.3" r="2.65"/>
<circle cx="522.5" cy="609.3" r="2.65"/>
<rect x="530.5" y="560.3" width="7" height="49.9" fill="#686868" stroke="#111" stroke-width="1"/>
<line x1="533.5" y1="551.3" x2="533.5" y2="568.7" stroke="#000" stroke-width="1"/>
<line x1="531" y1="551.3" x2="536" y2="551.3" stroke="#000" stroke-width="1"/>
<line x1="531" y1="568.7" x2="536" y2="568.7" stroke="#000" stroke-width="1"/>
<circle cx="533.54" cy="543.6" r="2.65"/>
<circle cx="533.54" cy="564.3" r="2.65"/>
<circle cx="533.54" cy="572" r="2.65"/>
<rect x="543.5" y="598.8" width="7" height="11.4" fill="#e5a3cd" stroke="#111" stroke-width="1"/>
<circle cx="546.88" cy="597.1" r="2.65"/>
<circle cx="544.58" cy="599.8" r="2.65"/>
<circle cx="549.18" cy="601.1" r="2.65"/>
<rect x="556.5" y="586.4" width="7" height="23.8" fill="#e9687e" stroke="#111" stroke-width="1"/>
<line x1="560.5" y1="580" x2="560.5" y2="594" stroke="#000" stroke-width="1"/>
<line x1="558" y1="580" x2="563" y2="580" stroke="#000" stroke-width="1"/>
<line x1="558" y1="594" x2="563" y2="594" stroke="#000" stroke-width="1"/>
<circle cx="560.22" cy="575.4" r="2.65"/>
<circle cx="560.22" cy="585.4" r="2.65"/>
<circle cx="560.22" cy="596.4" r="2.65"/>
<rect x="570.5" y="590.4" width="7" height="19.8" fill="#f0a64f" stroke="#111" stroke-width="1"/>
<line x1="573.5" y1="587" x2="573.5" y2="594" stroke="#000" stroke-width="1"/>
<line x1="571" y1="587" x2="576" y2="587" stroke="#000" stroke-width="1"/>
<line x1="571" y1="594" x2="576" y2="594" stroke="#000" stroke-width="1"/>
<circle cx="571.36" cy="586.4" r="2.65"/>
<circle cx="575.76" cy="587.7" r="2.65"/>
<circle cx="573.56" cy="597.1" r="2.65"/>
<rect x="583.5" y="581.1" width="7" height="29.1" fill="#6b88c9" stroke="#111" stroke-width="1"/>
<line x1="586.5" y1="573" x2="586.5" y2="589" stroke="#000" stroke-width="1"/>
<line x1="584" y1="573" x2="589" y2="573" stroke="#000" stroke-width="1"/>
<line x1="584" y1="589" x2="589" y2="589" stroke="#000" stroke-width="1"/>
<circle cx="586.9" cy="567" r="2.65"/>
<circle cx="586.9" cy="586.4" r="2.65"/>
<circle cx="586.9" cy="592.1" r="2.65"/>
<circle cx="608.8" cy="609.3" r="2.65"/>
<circle cx="606.5" cy="609.3" r="2.65"/>
<circle cx="611.1" cy="609.3" r="2.65"/>
<rect x="618.5" y="510" width="7" height="100.2" fill="#686868" stroke="#111" stroke-width="1"/>
<circle cx="622.62" cy="503" r="2.65"/>
<circle cx="624.52" cy="507.8" r="2.65"/>
<circle cx="619.72" cy="510.6" r="2.65"/>
<rect x="631.5" y="584.4" width="7" height="25.8" fill="#e5a3cd" stroke="#111" stroke-width="1"/>
<circle cx="635.44" cy="583.7" r="2.65"/>
<circle cx="633.14" cy="583.7" r="2.65"/>
<circle cx="637.74" cy="583.7" r="2.65"/>
<rect x="645.5" y="557" width="7" height="53.2" fill="#e9687e" stroke="#111" stroke-width="1"/>
<circle cx="648.76" cy="557" r="2.65"/>
<circle cx="646.46" cy="557" r="2.65"/>
<circle cx="651.06" cy="557" r="2.65"/>
<rect x="658.5" y="563.2" width="7" height="47" fill="#f0a64f" stroke="#111" stroke-width="1"/>
<circle cx="663.88" cy="560.9" r="2.65"/>
<circle cx="661.58" cy="562" r="2.65"/>
<circle cx="659.88" cy="564.1" r="2.65"/>
<rect x="671.5" y="565.5" width="7" height="44.7" fill="#6b88c9" stroke="#111" stroke-width="1"/>
<circle cx="673.4" cy="559.6" r="2.65"/>
<circle cx="677.7" cy="563.2" r="2.65"/>
<circle cx="673.6" cy="565.5" r="2.65"/>
<line x1="510.7" y1="610.2" x2="684.5" y2="610.2" stroke="#000" stroke-width="1.15"/>
<line x1="520.5" y1="610.2" x2="520.5" y2="614.4" stroke="#000" stroke-width="1"/>
<line x1="533.5" y1="610.2" x2="533.5" y2="614.4" stroke="#000" stroke-width="1"/>
<line x1="546.5" y1="610.2" x2="546.5" y2="614.4" stroke="#000" stroke-width="1"/>
<line x1="560.5" y1="610.2" x2="560.5" y2="614.4" stroke="#000" stroke-width="1"/>
<line x1="573.5" y1="610.2" x2="573.5" y2="614.4" stroke="#000" stroke-width="1"/>
<line x1="586.5" y1="610.2" x2="586.5" y2="614.4" stroke="#000" stroke-width="1"/>
<line x1="608.5" y1="610.2" x2="608.5" y2="614.4" stroke="#000" stroke-width="1"/>
<line x1="622.5" y1="610.2" x2="622.5" y2="614.4" stroke="#000" stroke-width="1"/>
<line x1="635.5" y1="610.2" x2="635.5" y2="614.4" stroke="#000" stroke-width="1"/>
<line x1="648.5" y1="610.2" x2="648.5" y2="614.4" stroke="#000" stroke-width="1"/>
<line x1="662.5" y1="610.2" x2="662.5" y2="614.4" stroke="#000" stroke-width="1"/>
<line x1="675.5" y1="610.2" x2="675.5" y2="614.4" stroke="#000" stroke-width="1"/>
<line x1="533.6" y1="490.5" x2="620.5" y2="490.5" stroke="#000" stroke-width="1"/>
<text x="577.05" y="491.2" font-size="9.3" text-anchor="middle" stroke="#000" stroke-width="0.12">**</text>
<line x1="521.2" y1="535.5" x2="533.6" y2="535.5" stroke="#000" stroke-width="1"/>
<text x="527.4" y="536.3" font-size="9.3" text-anchor="middle" stroke="#000" stroke-width="0.12">***</text>
<line x1="534.6" y1="531.5" x2="545.6" y2="531.5" stroke="#000" stroke-width="1"/>
<text x="540.1" y="532.3" font-size="9.3" text-anchor="middle" stroke="#000" stroke-width="0.12">**</text>
<line x1="534.6" y1="525.5" x2="559" y2="525.5" stroke="#000" stroke-width="1"/>
<text x="546.8" y="525.6" font-size="9.3" text-anchor="middle" stroke="#000" stroke-width="0.12">*</text>
<line x1="534.6" y1="519.5" x2="572.3" y2="519.5" stroke="#000" stroke-width="1"/>
<text x="553.45" y="519.6" font-size="9.3" text-anchor="middle" stroke="#000" stroke-width="0.12">**</text>
<line x1="609.1" y1="496.5" x2="621.5" y2="496.5" stroke="#000" stroke-width="1"/>
<text x="615.3" y="497.2" font-size="9.3" text-anchor="middle" stroke="#000" stroke-width="0.12">****</text>
<line x1="622.2" y1="500.5" x2="634.9" y2="500.5" stroke="#000" stroke-width="1"/>
<text x="628.55" y="500.6" font-size="9.3" text-anchor="middle" stroke="#000" stroke-width="0.12">****</text>
<line x1="622.2" y1="493.5" x2="648.2" y2="493.5" stroke="#000" stroke-width="1"/>
<text x="635.2" y="493.9" font-size="9.3" text-anchor="middle" stroke="#000" stroke-width="0.12">****</text>
<line x1="622.2" y1="487.5" x2="661.6" y2="487.5" stroke="#000" stroke-width="1"/>
<text x="641.9" y="487.7" font-size="9.3" text-anchor="middle" stroke="#000" stroke-width="0.12">****</text>
<line x1="622.2" y1="480.5" x2="675" y2="480.5" stroke="#000" stroke-width="1"/>
<text x="648.6" y="480.5" font-size="9.3" text-anchor="middle" stroke="#000" stroke-width="0.12">****</text>
<text x="596.2" y="471.7" font-size="12.2" text-anchor="middle">HCoV-229E M Protein RNA</text>
<text x="469.9" y="469.8" font-size="16.6" font-weight="bold">I</text>
<text x="477.3" y="550.1" font-size="11" text-anchor="middle" transform="rotate(-90 477.3 550.1)">Fold change</text>
<text x="470" y="623" font-size="9.2">CoV229E</text>
<text x="520.2" y="624" font-size="9.2" text-anchor="middle">-</text>
<text x="533.54" y="624" font-size="9.2" text-anchor="middle">+</text>
<text x="546.88" y="624" font-size="9.2" text-anchor="middle">+</text>
<text x="560.22" y="624" font-size="9.2" text-anchor="middle">+</text>
<text x="573.56" y="624" font-size="9.2" text-anchor="middle">+</text>
<text x="586.9" y="624" font-size="9.2" text-anchor="middle">+</text>
<text x="608.8" y="624" font-size="9.2" text-anchor="middle">-</text>
<text x="622.12" y="624" font-size="9.2" text-anchor="middle">+</text>
<text x="635.44" y="624" font-size="9.2" text-anchor="middle">+</text>
<text x="648.76" y="624" font-size="9.2" text-anchor="middle">+</text>
<text x="662.08" y="624" font-size="9.2" text-anchor="middle">+</text>
<text x="675.4" y="624" font-size="9.2" text-anchor="middle">+</text>
<text x="470" y="632" font-size="9.2">BARD</text>
<text x="520.2" y="633" font-size="9.2" text-anchor="middle">-</text>
<text x="533.54" y="633" font-size="9.2" text-anchor="middle">-</text>
<text x="546.88" y="633" font-size="9.2" text-anchor="middle">+</text>
<text x="560.22" y="633" font-size="9.2" text-anchor="middle">-</text>
<text x="573.56" y="633" font-size="9.2" text-anchor="middle">-</text>
<text x="586.9" y="633" font-size="9.2" text-anchor="middle">-</text>
<text x="608.8" y="633" font-size="9.2" text-anchor="middle">-</text>
<text x="622.12" y="633" font-size="9.2" text-anchor="middle">-</text>
<text x="635.44" y="633" font-size="9.2" text-anchor="middle">+</text>
<text x="648.76" y="633" font-size="9.2" text-anchor="middle">-</text>
<text x="662.08" y="633" font-size="9.2" text-anchor="middle">-</text>
<text x="675.4" y="633" font-size="9.2" text-anchor="middle">-</text>
<text x="470" y="641" font-size="9.2">SFN</text>
<text x="520.2" y="642" font-size="9.2" text-anchor="middle">-</text>
<text x="533.54" y="642" font-size="9.2" text-anchor="middle">-</text>
<text x="546.88" y="642" font-size="9.2" text-anchor="middle">-</text>
<text x="560.22" y="642" font-size="9.2" text-anchor="middle">+</text>
<text x="573.56" y="642" font-size="9.2" text-anchor="middle">-</text>
<text x="586.9" y="642" font-size="9.2" text-anchor="middle">-</text>
<text x="608.8" y="642" font-size="9.2" text-anchor="middle">-</text>
<text x="622.12" y="642" font-size="9.2" text-anchor="middle">-</text>
<text x="635.44" y="642" font-size="9.2" text-anchor="middle">-</text>
<text x="648.76" y="642" font-size="9.2" text-anchor="middle">+</text>
<text x="662.08" y="642" font-size="9.2" text-anchor="middle">-</text>
<text x="675.4" y="642" font-size="9.2" text-anchor="middle">-</text>
<text x="470" y="650" font-size="9.2">4OI</text>
<text x="520.2" y="651" font-size="9.2" text-anchor="middle">-</text>
<text x="533.54" y="651" font-size="9.2" text-anchor="middle">-</text>
<text x="546.88" y="651" font-size="9.2" text-anchor="middle">-</text>
<text x="560.22" y="651" font-size="9.2" text-anchor="middle">-</text>
<text x="573.56" y="651" font-size="9.2" text-anchor="middle">+</text>
<text x="586.9" y="651" font-size="9.2" text-anchor="middle">-</text>
<text x="608.8" y="651" font-size="9.2" text-anchor="middle">-</text>
<text x="622.12" y="651" font-size="9.2" text-anchor="middle">-</text>
<text x="635.44" y="651" font-size="9.2" text-anchor="middle">-</text>
<text x="648.76" y="651" font-size="9.2" text-anchor="middle">-</text>
<text x="662.08" y="651" font-size="9.2" text-anchor="middle">+</text>
<text x="675.4" y="651" font-size="9.2" text-anchor="middle">-</text>
<text x="470" y="659" font-size="9.2">SEL</text>
<text x="520.2" y="660" font-size="9.2" text-anchor="middle">-</text>
<text x="533.54" y="660" font-size="9.2" text-anchor="middle">-</text>
<text x="546.88" y="660" font-size="9.2" text-anchor="middle">-</text>
<text x="560.22" y="660" font-size="9.2" text-anchor="middle">-</text>
<text x="573.56" y="660" font-size="9.2" text-anchor="middle">-</text>
<text x="586.9" y="660" font-size="9.2" text-anchor="middle">+</text>
<text x="608.8" y="660" font-size="9.2" text-anchor="middle">-</text>
<text x="622.12" y="660" font-size="9.2" text-anchor="middle">-</text>
<text x="635.44" y="660" font-size="9.2" text-anchor="middle">-</text>
<text x="648.76" y="660" font-size="9.2" text-anchor="middle">-</text>
<text x="662.08" y="660" font-size="9.2" text-anchor="middle">-</text>
<text x="675.4" y="660" font-size="9.2" text-anchor="middle">+</text>
<line x1="520.2" y1="664.2" x2="584.7" y2="664.2" stroke="#000" stroke-width="1.5"/>
<line x1="609.1" y1="664.2" x2="674" y2="664.2" stroke="#000" stroke-width="1.5"/>
<text x="553" y="675.5" font-size="9.2" text-anchor="middle">WT</text>
<text x="584.7" y="673.6" font-size="10.6" font-weight="bold">A549</text>
<text x="619.2" y="675.5" font-size="9.2"><tspan font-style="italic">HMOX1</tspan> KD</text>
</svg>
</body></html>
